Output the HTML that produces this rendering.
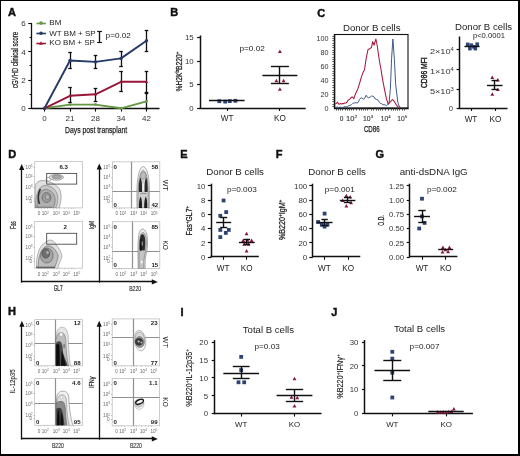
<!DOCTYPE html>
<html><head><meta charset="utf-8"><style>
html,body{margin:0;padding:0;background:#fff;}
body{width:520px;height:456px;overflow:hidden;}
svg{display:block;will-change:transform;font-family:"Liberation Sans", sans-serif;}
</style></head><body>
<svg width="520" height="456" viewBox="0 0 520 456">
<rect x="0" y="0" width="520" height="456" fill="#fff"/>
<text transform="translate(8.00,16.20)" font-size="11" font-weight="bold" fill="#111" stroke="#111" stroke-width="0.45">A</text>
<line x1="31.50" y1="22.92" x2="31.50" y2="108.90" stroke="#111" stroke-width="1.3"/>
<line x1="28.20" y1="108.50" x2="31.50" y2="108.50" stroke="#111" stroke-width="1.1"/>
<line x1="29.60" y1="94.50" x2="31.50" y2="94.50" stroke="#111" stroke-width="1.1"/>
<line x1="28.20" y1="80.50" x2="31.50" y2="80.50" stroke="#111" stroke-width="1.1"/>
<line x1="29.60" y1="65.50" x2="31.50" y2="65.50" stroke="#111" stroke-width="1.1"/>
<line x1="28.20" y1="51.50" x2="31.50" y2="51.50" stroke="#111" stroke-width="1.1"/>
<line x1="29.60" y1="37.50" x2="31.50" y2="37.50" stroke="#111" stroke-width="1.1"/>
<line x1="28.20" y1="23.50" x2="31.50" y2="23.50" stroke="#111" stroke-width="1.1"/>
<text transform="translate(25.60,111.20)" font-size="8" text-anchor="end" fill="#333">0</text>
<text transform="translate(25.60,82.94)" font-size="8" text-anchor="end" fill="#333">2</text>
<text transform="translate(25.60,54.68)" font-size="8" text-anchor="end" fill="#333">4</text>
<text transform="translate(25.60,26.42)" font-size="8" text-anchor="end" fill="#333">6</text>
<line x1="30.90" y1="108.50" x2="159.50" y2="108.50" stroke="#111" stroke-width="1.3"/>
<line x1="44.50" y1="108.30" x2="44.50" y2="111.60" stroke="#111" stroke-width="1.1"/>
<text transform="translate(44.50,121.00)" font-size="8" text-anchor="middle" fill="#333">0</text>
<line x1="70.50" y1="108.30" x2="70.50" y2="111.60" stroke="#111" stroke-width="1.1"/>
<text transform="translate(70.00,121.00)" font-size="8" text-anchor="middle" fill="#333">21</text>
<line x1="95.50" y1="108.30" x2="95.50" y2="111.60" stroke="#111" stroke-width="1.1"/>
<text transform="translate(95.50,121.00)" font-size="8" text-anchor="middle" fill="#333">28</text>
<line x1="121.50" y1="108.30" x2="121.50" y2="111.60" stroke="#111" stroke-width="1.1"/>
<text transform="translate(121.00,121.00)" font-size="8" text-anchor="middle" fill="#333">34</text>
<line x1="146.50" y1="108.30" x2="146.50" y2="111.60" stroke="#111" stroke-width="1.1"/>
<text transform="translate(146.50,121.00)" font-size="8" text-anchor="middle" fill="#333">42</text>
<text transform="translate(96.10,133.10)" font-size="9.6" text-anchor="middle" fill="#222" stroke="#222" stroke-width="0.25" textLength="62" lengthAdjust="spacingAndGlyphs">Days post transplant</text>
<text transform="translate(17.60,59.90) rotate(-90)" font-size="9.0" text-anchor="middle" fill="#222" stroke="#222" stroke-width="0.25" textLength="56" lengthAdjust="spacingAndGlyphs">cGVHD clinical score</text>
<line x1="70.50" y1="52.60" x2="70.50" y2="68.70" stroke="#111" stroke-width="1.3"/>
<line x1="68.20" y1="52.50" x2="71.80" y2="52.50" stroke="#111" stroke-width="1.3"/>
<line x1="68.20" y1="68.50" x2="71.80" y2="68.50" stroke="#111" stroke-width="1.3"/>
<line x1="95.50" y1="55.50" x2="95.50" y2="68.70" stroke="#111" stroke-width="1.3"/>
<line x1="93.70" y1="55.50" x2="97.30" y2="55.50" stroke="#111" stroke-width="1.3"/>
<line x1="93.70" y1="68.50" x2="97.30" y2="68.50" stroke="#111" stroke-width="1.3"/>
<line x1="121.50" y1="51.30" x2="121.50" y2="66.30" stroke="#111" stroke-width="1.3"/>
<line x1="119.20" y1="51.50" x2="122.80" y2="51.50" stroke="#111" stroke-width="1.3"/>
<line x1="119.20" y1="66.50" x2="122.80" y2="66.50" stroke="#111" stroke-width="1.3"/>
<line x1="146.50" y1="30.80" x2="146.50" y2="51.00" stroke="#111" stroke-width="1.3"/>
<line x1="144.70" y1="30.50" x2="148.30" y2="30.50" stroke="#111" stroke-width="1.3"/>
<line x1="144.70" y1="51.50" x2="148.30" y2="51.50" stroke="#111" stroke-width="1.3"/>
<line x1="70.50" y1="87.30" x2="70.50" y2="102.00" stroke="#111" stroke-width="1.3"/>
<line x1="68.20" y1="87.50" x2="71.80" y2="87.50" stroke="#111" stroke-width="1.3"/>
<line x1="68.20" y1="102.50" x2="71.80" y2="102.50" stroke="#111" stroke-width="1.3"/>
<line x1="95.50" y1="88.20" x2="95.50" y2="101.60" stroke="#111" stroke-width="1.3"/>
<line x1="93.70" y1="88.50" x2="97.30" y2="88.50" stroke="#111" stroke-width="1.3"/>
<line x1="93.70" y1="101.50" x2="97.30" y2="101.50" stroke="#111" stroke-width="1.3"/>
<line x1="121.50" y1="71.30" x2="121.50" y2="91.60" stroke="#111" stroke-width="1.3"/>
<line x1="119.20" y1="71.50" x2="122.80" y2="71.50" stroke="#111" stroke-width="1.3"/>
<line x1="119.20" y1="91.50" x2="122.80" y2="91.50" stroke="#111" stroke-width="1.3"/>
<line x1="146.50" y1="71.30" x2="146.50" y2="92.00" stroke="#111" stroke-width="1.3"/>
<line x1="144.70" y1="71.50" x2="148.30" y2="71.50" stroke="#111" stroke-width="1.3"/>
<line x1="144.70" y1="92.50" x2="148.30" y2="92.50" stroke="#111" stroke-width="1.3"/>
<line x1="146.50" y1="93.50" x2="146.50" y2="108.30" stroke="#111" stroke-width="1.3"/>
<line x1="144.70" y1="93.50" x2="148.30" y2="93.50" stroke="#111" stroke-width="1.3"/>
<line x1="144.70" y1="108.50" x2="148.30" y2="108.50" stroke="#111" stroke-width="1.3"/>
<polyline points="44.50,108.30 70.00,104.60 95.50,104.60 121.00,108.30 146.50,101.30" fill="none" stroke="#679846" stroke-width="1.9" stroke-linejoin="round"/>
<polyline points="44.50,108.30 70.00,95.80 95.50,94.30 121.00,81.80 146.50,81.80" fill="none" stroke="#981638" stroke-width="1.9" stroke-linejoin="round"/>
<polyline points="44.50,108.30 70.00,60.50 95.50,61.90 121.00,58.40 146.50,40.70" fill="none" stroke="#243a68" stroke-width="1.9" stroke-linejoin="round"/>
<circle cx="44.5" cy="108.3" r="1.4" fill="#679846"/>
<circle cx="70" cy="104.6" r="1.4" fill="#679846"/>
<circle cx="95.5" cy="104.6" r="1.4" fill="#679846"/>
<circle cx="121" cy="108.3" r="1.4" fill="#679846"/>
<circle cx="146.5" cy="101.3" r="1.4" fill="#679846"/>
<polygon points="44.50,106.57 42.90,109.45 46.10,109.45" fill="#981638"/>
<polygon points="70.00,94.07 68.40,96.95 71.60,96.95" fill="#981638"/>
<polygon points="95.50,92.57 93.90,95.45 97.10,95.45" fill="#981638"/>
<polygon points="121.00,80.07 119.40,82.95 122.60,82.95" fill="#981638"/>
<polygon points="146.50,80.07 144.90,82.95 148.10,82.95" fill="#981638"/>
<circle cx="44.5" cy="108.3" r="1.7" fill="#243a68"/>
<circle cx="70" cy="60.5" r="1.7" fill="#243a68"/>
<circle cx="95.5" cy="61.9" r="1.7" fill="#243a68"/>
<circle cx="121" cy="58.4" r="1.7" fill="#243a68"/>
<circle cx="146.5" cy="40.7" r="1.7" fill="#243a68"/>
<line x1="36.40" y1="23.50" x2="45.90" y2="23.50" stroke="#679846" stroke-width="1.6"/>
<circle cx="41" cy="23.1" r="1.8" fill="#679846"/>
<text transform="translate(49.30,25.40)" font-size="8.0" fill="#222">BM</text>
<line x1="36.40" y1="33.50" x2="45.90" y2="33.50" stroke="#243a68" stroke-width="1.6"/>
<circle cx="41" cy="33.3" r="1.8" fill="#243a68"/>
<text transform="translate(49.30,35.60)" font-size="8.0" fill="#222">WT BM + SP</text>
<line x1="36.40" y1="43.50" x2="45.90" y2="43.50" stroke="#981638" stroke-width="1.6"/>
<polygon points="41.00,41.25 39.10,44.67 42.90,44.67" fill="#981638"/>
<text transform="translate(49.30,45.30)" font-size="8.0" fill="#222">KO BM + SP</text>
<line x1="99.50" y1="31.80" x2="99.50" y2="42.30" stroke="#111" stroke-width="1.3"/>
<line x1="97.20" y1="31.50" x2="101.90" y2="31.50" stroke="#111" stroke-width="1.2"/>
<line x1="97.20" y1="42.50" x2="101.90" y2="42.50" stroke="#111" stroke-width="1.2"/>
<text transform="translate(105.60,38.10)" font-size="7.4" fill="#222" textLength="25.3" lengthAdjust="spacingAndGlyphs">p=0.02</text>
<text transform="translate(170.30,16.20)" font-size="11" font-weight="bold" fill="#111" stroke="#111" stroke-width="0.45">B</text>
<line x1="200.50" y1="35.45" x2="200.50" y2="108.60" stroke="#111" stroke-width="1.5"/>
<line x1="197.10" y1="108.50" x2="200.10" y2="108.50" stroke="#111" stroke-width="1.2"/>
<text transform="translate(193.60,110.81)" font-size="7.8" text-anchor="end" fill="#333">0</text>
<line x1="197.10" y1="84.50" x2="200.10" y2="84.50" stroke="#111" stroke-width="1.2"/>
<text transform="translate(193.60,87.36)" font-size="7.8" text-anchor="end" fill="#333">5</text>
<line x1="197.10" y1="61.50" x2="200.10" y2="61.50" stroke="#111" stroke-width="1.2"/>
<text transform="translate(193.60,63.91)" font-size="7.8" text-anchor="end" fill="#333">10</text>
<line x1="197.10" y1="37.50" x2="200.10" y2="37.50" stroke="#111" stroke-width="1.2"/>
<text transform="translate(193.60,40.46)" font-size="7.8" text-anchor="end" fill="#333">15</text>
<line x1="199.50" y1="108.50" x2="305.70" y2="108.50" stroke="#111" stroke-width="1.5"/>
<line x1="227.50" y1="108.00" x2="227.50" y2="111.00" stroke="#111" stroke-width="1.1"/>
<text transform="translate(227.10,121.40)" font-size="8.2" text-anchor="middle" fill="#222">WT</text>
<line x1="279.50" y1="108.00" x2="279.50" y2="111.00" stroke="#111" stroke-width="1.1"/>
<text transform="translate(279.90,121.40)" font-size="8.2" text-anchor="middle" fill="#222">KO</text>
<rect x="217.40" y="99.30" width="3.80" height="3.80" fill="#2e4472" stroke="none" stroke-width="1.0"/>
<rect x="223.30" y="99.70" width="3.80" height="3.80" fill="#2e4472" stroke="none" stroke-width="1.0"/>
<rect x="227.90" y="99.20" width="3.80" height="3.80" fill="#2e4472" stroke="none" stroke-width="1.0"/>
<rect x="233.50" y="98.90" width="3.80" height="3.80" fill="#2e4472" stroke="none" stroke-width="1.0"/>
<line x1="209.00" y1="100.50" x2="244.60" y2="100.50" stroke="#111" stroke-width="1.4"/>
<polygon points="279.90,49.49 277.95,53.00 281.85,53.00" fill="#861a3c"/>
<polygon points="276.40,78.79 274.45,82.30 278.35,82.30" fill="#861a3c"/>
<polygon points="283.60,78.79 281.65,82.30 285.55,82.30" fill="#861a3c"/>
<polygon points="279.90,87.19 277.95,90.70 281.85,90.70" fill="#861a3c"/>
<line x1="262.40" y1="75.50" x2="297.40" y2="75.50" stroke="#111" stroke-width="1.4"/>
<line x1="279.50" y1="66.90" x2="279.50" y2="83.10" stroke="#111" stroke-width="1.4"/>
<line x1="270.90" y1="66.50" x2="288.90" y2="66.50" stroke="#111" stroke-width="1.4"/>
<line x1="270.90" y1="83.50" x2="288.90" y2="83.50" stroke="#111" stroke-width="1.4"/>
<text transform="translate(239.50,51.00)" font-size="7.4" fill="#222" textLength="25.3" lengthAdjust="spacingAndGlyphs">p=0.02</text>
<text transform="translate(182.00,71.50) rotate(-90)" font-size="8.6" text-anchor="middle" fill="#222" stroke="#222" stroke-width="0.25" textLength="39.8" lengthAdjust="spacingAndGlyphs">%H2K<tspan font-size="6" dy="-3">b</tspan><tspan dy="3">B220</tspan><tspan font-size="6" dy="-3">+</tspan></text>
<text transform="translate(317.20,16.90)" font-size="11" font-weight="bold" fill="#111" stroke="#111" stroke-width="0.45">C</text>
<text transform="translate(371.70,30.50)" font-size="9.7" text-anchor="middle" fill="#222">Donor B cells</text>
<rect x="334.60" y="34.50" width="73.40" height="73.50" fill="none" stroke="#111" stroke-width="1.1"/>
<line x1="334.50" y1="34.00" x2="334.50" y2="108.60" stroke="#111" stroke-width="1.4"/>
<line x1="334.00" y1="108.50" x2="408.60" y2="108.50" stroke="#111" stroke-width="1.4"/>
<text transform="translate(328.60,40.70)" font-size="7.2" text-anchor="end" fill="#333">100</text>
<text transform="translate(328.60,54.50)" font-size="7.2" text-anchor="end" fill="#333">80</text>
<text transform="translate(328.60,68.80)" font-size="7.2" text-anchor="end" fill="#333">60</text>
<text transform="translate(328.60,83.00)" font-size="7.2" text-anchor="end" fill="#333">40</text>
<text transform="translate(328.60,97.30)" font-size="7.2" text-anchor="end" fill="#333">20</text>
<text transform="translate(328.60,110.90)" font-size="7.2" text-anchor="end" fill="#333">0</text>
<line x1="332.40" y1="36.50" x2="334.60" y2="36.50" stroke="#333" stroke-width="0.8"/>
<line x1="332.40" y1="38.50" x2="334.60" y2="38.50" stroke="#333" stroke-width="0.8"/>
<line x1="332.40" y1="40.50" x2="334.60" y2="40.50" stroke="#333" stroke-width="0.8"/>
<line x1="332.40" y1="43.50" x2="334.60" y2="43.50" stroke="#333" stroke-width="0.8"/>
<line x1="332.40" y1="45.50" x2="334.60" y2="45.50" stroke="#333" stroke-width="0.8"/>
<line x1="332.40" y1="47.50" x2="334.60" y2="47.50" stroke="#333" stroke-width="0.8"/>
<line x1="332.40" y1="50.50" x2="334.60" y2="50.50" stroke="#333" stroke-width="0.8"/>
<line x1="332.40" y1="52.50" x2="334.60" y2="52.50" stroke="#333" stroke-width="0.8"/>
<line x1="332.40" y1="54.50" x2="334.60" y2="54.50" stroke="#333" stroke-width="0.8"/>
<line x1="332.40" y1="57.50" x2="334.60" y2="57.50" stroke="#333" stroke-width="0.8"/>
<line x1="332.40" y1="59.50" x2="334.60" y2="59.50" stroke="#333" stroke-width="0.8"/>
<line x1="332.40" y1="61.50" x2="334.60" y2="61.50" stroke="#333" stroke-width="0.8"/>
<line x1="332.40" y1="64.50" x2="334.60" y2="64.50" stroke="#333" stroke-width="0.8"/>
<line x1="332.40" y1="66.50" x2="334.60" y2="66.50" stroke="#333" stroke-width="0.8"/>
<line x1="332.40" y1="68.50" x2="334.60" y2="68.50" stroke="#333" stroke-width="0.8"/>
<line x1="332.40" y1="71.50" x2="334.60" y2="71.50" stroke="#333" stroke-width="0.8"/>
<line x1="332.40" y1="73.50" x2="334.60" y2="73.50" stroke="#333" stroke-width="0.8"/>
<line x1="332.40" y1="75.50" x2="334.60" y2="75.50" stroke="#333" stroke-width="0.8"/>
<line x1="332.40" y1="78.50" x2="334.60" y2="78.50" stroke="#333" stroke-width="0.8"/>
<line x1="332.40" y1="80.50" x2="334.60" y2="80.50" stroke="#333" stroke-width="0.8"/>
<line x1="332.40" y1="82.50" x2="334.60" y2="82.50" stroke="#333" stroke-width="0.8"/>
<line x1="332.40" y1="85.50" x2="334.60" y2="85.50" stroke="#333" stroke-width="0.8"/>
<line x1="332.40" y1="87.50" x2="334.60" y2="87.50" stroke="#333" stroke-width="0.8"/>
<line x1="332.40" y1="90.50" x2="334.60" y2="90.50" stroke="#333" stroke-width="0.8"/>
<line x1="332.40" y1="92.50" x2="334.60" y2="92.50" stroke="#333" stroke-width="0.8"/>
<line x1="332.40" y1="94.50" x2="334.60" y2="94.50" stroke="#333" stroke-width="0.8"/>
<line x1="332.40" y1="97.50" x2="334.60" y2="97.50" stroke="#333" stroke-width="0.8"/>
<line x1="332.40" y1="99.50" x2="334.60" y2="99.50" stroke="#333" stroke-width="0.8"/>
<line x1="332.40" y1="101.50" x2="334.60" y2="101.50" stroke="#333" stroke-width="0.8"/>
<line x1="332.40" y1="104.50" x2="334.60" y2="104.50" stroke="#333" stroke-width="0.8"/>
<line x1="332.40" y1="106.50" x2="334.60" y2="106.50" stroke="#333" stroke-width="0.8"/>
<line x1="336.50" y1="108.20" x2="336.50" y2="110.60" stroke="#333" stroke-width="0.8"/>
<line x1="338.50" y1="108.20" x2="338.50" y2="110.60" stroke="#333" stroke-width="0.8"/>
<line x1="340.50" y1="108.20" x2="340.50" y2="110.60" stroke="#333" stroke-width="0.8"/>
<line x1="342.50" y1="108.20" x2="342.50" y2="110.60" stroke="#333" stroke-width="0.8"/>
<line x1="345.50" y1="108.20" x2="345.50" y2="110.60" stroke="#333" stroke-width="0.8"/>
<line x1="347.50" y1="108.20" x2="347.50" y2="110.60" stroke="#333" stroke-width="0.8"/>
<line x1="349.50" y1="108.20" x2="349.50" y2="110.60" stroke="#333" stroke-width="0.8"/>
<line x1="351.50" y1="108.20" x2="351.50" y2="110.60" stroke="#333" stroke-width="0.8"/>
<line x1="353.50" y1="108.20" x2="353.50" y2="110.60" stroke="#333" stroke-width="0.8"/>
<line x1="356.50" y1="108.20" x2="356.50" y2="110.60" stroke="#333" stroke-width="0.8"/>
<line x1="359.50" y1="108.20" x2="359.50" y2="110.60" stroke="#333" stroke-width="0.8"/>
<line x1="361.50" y1="108.20" x2="361.50" y2="110.60" stroke="#333" stroke-width="0.8"/>
<line x1="363.50" y1="108.20" x2="363.50" y2="110.60" stroke="#333" stroke-width="0.8"/>
<line x1="365.50" y1="108.20" x2="365.50" y2="110.60" stroke="#333" stroke-width="0.8"/>
<line x1="367.50" y1="108.20" x2="367.50" y2="110.60" stroke="#333" stroke-width="0.8"/>
<line x1="371.50" y1="108.20" x2="371.50" y2="110.60" stroke="#333" stroke-width="0.8"/>
<line x1="373.50" y1="108.20" x2="373.50" y2="110.60" stroke="#333" stroke-width="0.8"/>
<line x1="376.50" y1="108.20" x2="376.50" y2="110.60" stroke="#333" stroke-width="0.8"/>
<line x1="378.50" y1="108.20" x2="378.50" y2="110.60" stroke="#333" stroke-width="0.8"/>
<line x1="380.50" y1="108.20" x2="380.50" y2="110.60" stroke="#333" stroke-width="0.8"/>
<line x1="382.50" y1="108.20" x2="382.50" y2="110.60" stroke="#333" stroke-width="0.8"/>
<line x1="385.50" y1="108.20" x2="385.50" y2="110.60" stroke="#333" stroke-width="0.8"/>
<line x1="388.50" y1="108.20" x2="388.50" y2="110.60" stroke="#333" stroke-width="0.8"/>
<line x1="391.50" y1="108.20" x2="391.50" y2="110.60" stroke="#333" stroke-width="0.8"/>
<line x1="393.50" y1="108.20" x2="393.50" y2="110.60" stroke="#333" stroke-width="0.8"/>
<line x1="395.50" y1="108.20" x2="395.50" y2="110.60" stroke="#333" stroke-width="0.8"/>
<line x1="397.50" y1="108.20" x2="397.50" y2="110.60" stroke="#333" stroke-width="0.8"/>
<line x1="399.50" y1="108.20" x2="399.50" y2="110.60" stroke="#333" stroke-width="0.8"/>
<line x1="402.50" y1="108.20" x2="402.50" y2="110.60" stroke="#333" stroke-width="0.8"/>
<line x1="404.50" y1="108.20" x2="404.50" y2="110.60" stroke="#333" stroke-width="0.8"/>
<text transform="translate(341.60,120.70)" font-size="6.6" text-anchor="middle" fill="#333" stroke="#333" stroke-width="0.1">0</text>
<text transform="translate(351.60,120.70)" font-size="6.6" text-anchor="middle" fill="#333" stroke="#333" stroke-width="0.1" textLength="11.2" lengthAdjust="spacingAndGlyphs">10<tspan font-size="4.3" dy="-2.6">2</tspan></text>
<text transform="translate(368.10,120.70)" font-size="6.6" text-anchor="middle" fill="#333" stroke="#333" stroke-width="0.1" textLength="10.2" lengthAdjust="spacingAndGlyphs">10<tspan font-size="4.3" dy="-2.6">3</tspan></text>
<text transform="translate(385.70,120.70)" font-size="6.6" text-anchor="middle" fill="#333" stroke="#333" stroke-width="0.1" textLength="9.8" lengthAdjust="spacingAndGlyphs">10<tspan font-size="4.3" dy="-2.6">4</tspan></text>
<text transform="translate(402.20,120.70)" font-size="6.6" text-anchor="middle" fill="#333" stroke="#333" stroke-width="0.1" textLength="9.9" lengthAdjust="spacingAndGlyphs">10<tspan font-size="4.3" dy="-2.6">5</tspan></text>
<text transform="translate(371.80,131.70)" font-size="8.2" text-anchor="middle" fill="#1a1a1a" stroke="#1a1a1a" stroke-width="0.25" textLength="15.8" lengthAdjust="spacingAndGlyphs">CD86</text>
<polyline points="335.20,107.40 336.42,107.23 337.63,107.06 338.85,107.54 340.07,106.99 341.28,107.43 342.50,107.40 343.82,107.07 345.15,106.56 346.48,106.81 347.80,106.60 348.97,105.49 350.13,105.32 351.30,104.80 352.47,103.65 353.63,103.05 354.80,103.00 355.97,102.63 357.13,102.94 358.30,102.20 359.60,99.36 360.90,97.80 362.25,98.14 363.60,99.50 364.90,97.60 366.20,95.20 367.50,97.42 368.80,97.80 370.15,97.05 371.50,96.00 372.80,96.24 374.10,96.90 375.40,99.10 376.70,99.50 378.05,100.12 379.40,102.20 380.57,103.57 381.73,103.66 382.90,104.80 384.07,104.68 385.23,104.96 386.40,105.70 387.70,104.57 389.00,103.90 390.40,88.10 391.60,58.30 392.90,39.00 394.30,58.30 395.70,84.60 397.80,102.20 399.50,107.10 400.85,107.45 402.20,107.80" fill="none" stroke="#41598a" stroke-width="1.0" stroke-linejoin="round"/>
<polyline points="335.20,103.90 336.25,103.55 337.30,102.20 339.00,104.30 340.17,103.60 341.33,103.96 342.50,103.60 343.67,103.62 344.83,103.00 346.00,103.00 347.17,101.92 348.33,99.84 349.50,99.50 351.30,97.30 352.60,97.03 353.90,98.70 355.25,94.40 356.60,91.60 357.90,88.68 359.20,84.60 360.50,80.02 361.80,75.90 363.15,72.21 364.50,69.70 366.20,58.30 368.00,49.50 369.70,48.70 371.50,47.40 372.70,41.60 374.10,45.20 375.90,39.00 377.30,46.00 378.50,54.80 379.70,62.70 380.80,68.00 381.85,74.82 382.90,81.10 384.60,89.90 386.40,98.70 388.10,103.90 389.45,102.52 390.80,101.30 392.50,99.50 393.85,100.89 395.20,103.00 396.50,105.21 397.80,106.60 399.10,107.42 400.40,107.80" fill="none" stroke="#a8193f" stroke-width="1.05" stroke-linejoin="round"/>
<text transform="translate(483.60,30.40)" font-size="9.6" text-anchor="middle" fill="#222">Donor B cells</text>
<text transform="translate(472.90,38.30)" font-size="7.0" fill="#222" textLength="32.0" lengthAdjust="spacingAndGlyphs">p&lt;0.0001</text>
<line x1="459.50" y1="36.50" x2="459.50" y2="108.60" stroke="#111" stroke-width="1.5"/>
<line x1="456.60" y1="49.50" x2="459.70" y2="49.50" stroke="#111" stroke-width="1.2"/>
<line x1="456.60" y1="69.50" x2="459.70" y2="69.50" stroke="#111" stroke-width="1.2"/>
<line x1="456.60" y1="89.50" x2="459.70" y2="89.50" stroke="#111" stroke-width="1.2"/>
<line x1="456.60" y1="108.50" x2="459.70" y2="108.50" stroke="#111" stroke-width="1.2"/>
<line x1="459.10" y1="108.50" x2="507.50" y2="108.50" stroke="#111" stroke-width="1.5"/>
<line x1="471.50" y1="108.00" x2="471.50" y2="111.00" stroke="#111" stroke-width="1.1"/>
<text transform="translate(471.00,122.00)" font-size="8.2" text-anchor="middle" fill="#222">WT</text>
<line x1="495.50" y1="108.00" x2="495.50" y2="111.00" stroke="#111" stroke-width="1.1"/>
<text transform="translate(495.40,122.00)" font-size="8.2" text-anchor="middle" fill="#222">KO</text>
<text transform="translate(441.90,53.50)" font-size="7.6" text-anchor="middle" fill="#333" textLength="24" lengthAdjust="spacingAndGlyphs">2×10<tspan font-size="4.9" dy="-2.6">4</tspan></text>
<text transform="translate(441.90,73.70)" font-size="7.6" text-anchor="middle" fill="#333" textLength="24" lengthAdjust="spacingAndGlyphs">1×10<tspan font-size="4.9" dy="-2.6">4</tspan></text>
<text transform="translate(441.90,93.50)" font-size="7.6" text-anchor="middle" fill="#333" textLength="24" lengthAdjust="spacingAndGlyphs">5×10<tspan font-size="4.9" dy="-2.6">3</tspan></text>
<text transform="translate(452.90,110.70)" font-size="7.6" text-anchor="end" fill="#333">0</text>
<text transform="translate(426.70,72.70) rotate(-90)" font-size="9.0" text-anchor="middle" fill="#111" stroke="#111" stroke-width="0.35" textLength="30.6" lengthAdjust="spacingAndGlyphs">CD86 MFI</text>
<rect x="465.90" y="42.60" width="3.60" height="3.60" fill="#2f4574" stroke="none" stroke-width="1.0"/>
<rect x="468.10" y="46.80" width="3.60" height="3.60" fill="#2f4574" stroke="none" stroke-width="1.0"/>
<rect x="472.10" y="45.00" width="3.60" height="3.60" fill="#2f4574" stroke="none" stroke-width="1.0"/>
<rect x="475.40" y="42.40" width="3.60" height="3.60" fill="#2f4574" stroke="none" stroke-width="1.0"/>
<rect x="473.50" y="46.80" width="3.60" height="3.60" fill="#2f4574" stroke="none" stroke-width="1.0"/>
<rect x="469.50" y="43.40" width="3.60" height="3.60" fill="#2f4574" stroke="none" stroke-width="1.0"/>
<line x1="464.40" y1="46.50" x2="479.60" y2="46.50" stroke="#111" stroke-width="1.4"/>
<polygon points="492.30,75.49 490.35,79.00 494.25,79.00" fill="#861a3c"/>
<polygon points="497.90,77.89 495.95,81.40 499.85,81.40" fill="#861a3c"/>
<polygon points="497.90,87.59 495.95,91.10 499.85,91.10" fill="#861a3c"/>
<polygon points="492.30,92.29 490.35,95.80 494.25,95.80" fill="#861a3c"/>
<line x1="487.05" y1="85.50" x2="502.55" y2="85.50" stroke="#111" stroke-width="1.4"/>
<line x1="494.50" y1="80.70" x2="494.50" y2="89.70" stroke="#111" stroke-width="1.4"/>
<line x1="491.50" y1="80.50" x2="498.10" y2="80.50" stroke="#111" stroke-width="1.4"/>
<line x1="491.50" y1="89.50" x2="498.10" y2="89.50" stroke="#111" stroke-width="1.4"/>
<text transform="translate(180.20,158.30)" font-size="11" font-weight="bold" fill="#111" stroke="#111" stroke-width="0.45">E</text>
<text transform="translate(275.70,158.30)" font-size="11" font-weight="bold" fill="#111" stroke="#111" stroke-width="0.45">F</text>
<text transform="translate(375.60,158.30)" font-size="11" font-weight="bold" fill="#111" stroke="#111" stroke-width="0.45">G</text>
<text transform="translate(235.10,174.80)" font-size="9.7" text-anchor="middle" fill="#222">Donor B cells</text>
<text transform="translate(337.10,174.80)" font-size="9.7" text-anchor="middle" fill="#222">Donor B cells</text>
<text transform="translate(433.70,174.80)" font-size="9.8" text-anchor="middle" fill="#222">anti-dsDNA IgG</text>
<line x1="211.50" y1="183.70" x2="211.50" y2="257.40" stroke="#111" stroke-width="1.5"/>
<line x1="207.80" y1="257.50" x2="211.10" y2="257.50" stroke="#111" stroke-width="1.2"/>
<text transform="translate(205.40,259.81)" font-size="7.8" text-anchor="end" fill="#333">0</text>
<line x1="207.80" y1="242.50" x2="211.10" y2="242.50" stroke="#111" stroke-width="1.2"/>
<text transform="translate(205.40,245.59)" font-size="7.8" text-anchor="end" fill="#333">2</text>
<line x1="207.80" y1="228.50" x2="211.10" y2="228.50" stroke="#111" stroke-width="1.2"/>
<text transform="translate(205.40,231.37)" font-size="7.8" text-anchor="end" fill="#333">4</text>
<line x1="207.80" y1="214.50" x2="211.10" y2="214.50" stroke="#111" stroke-width="1.2"/>
<text transform="translate(205.40,217.15)" font-size="7.8" text-anchor="end" fill="#333">6</text>
<line x1="207.80" y1="200.50" x2="211.10" y2="200.50" stroke="#111" stroke-width="1.2"/>
<text transform="translate(205.40,202.93)" font-size="7.8" text-anchor="end" fill="#333">8</text>
<line x1="207.80" y1="185.50" x2="211.10" y2="185.50" stroke="#111" stroke-width="1.2"/>
<text transform="translate(205.40,188.71)" font-size="7.8" text-anchor="end" fill="#333">10</text>
<line x1="210.50" y1="256.50" x2="258.80" y2="256.50" stroke="#111" stroke-width="1.5"/>
<line x1="223.50" y1="256.80" x2="223.50" y2="259.80" stroke="#111" stroke-width="1.1"/>
<text transform="translate(223.20,270.60)" font-size="8.2" text-anchor="middle" fill="#222">WT</text>
<line x1="246.50" y1="256.80" x2="246.50" y2="259.80" stroke="#111" stroke-width="1.1"/>
<text transform="translate(246.70,270.60)" font-size="8.2" text-anchor="middle" fill="#222">KO</text>
<rect x="221.70" y="198.60" width="3.80" height="3.80" fill="#2e4472" stroke="none" stroke-width="1.0"/>
<rect x="224.30" y="210.20" width="3.80" height="3.80" fill="#2e4472" stroke="none" stroke-width="1.0"/>
<rect x="218.40" y="213.90" width="3.80" height="3.80" fill="#2e4472" stroke="none" stroke-width="1.0"/>
<rect x="218.40" y="228.00" width="3.80" height="3.80" fill="#2e4472" stroke="none" stroke-width="1.0"/>
<rect x="226.90" y="228.00" width="3.80" height="3.80" fill="#2e4472" stroke="none" stroke-width="1.0"/>
<rect x="223.90" y="231.00" width="3.80" height="3.80" fill="#2e4472" stroke="none" stroke-width="1.0"/>
<rect x="218.40" y="235.20" width="3.80" height="3.80" fill="#2e4472" stroke="none" stroke-width="1.0"/>
<line x1="216.20" y1="222.50" x2="231.20" y2="222.50" stroke="#111" stroke-width="1.4"/>
<line x1="223.50" y1="217.60" x2="223.50" y2="227.60" stroke="#111" stroke-width="1.4"/>
<line x1="220.20" y1="217.50" x2="227.20" y2="217.50" stroke="#111" stroke-width="1.4"/>
<line x1="220.20" y1="227.50" x2="227.20" y2="227.50" stroke="#111" stroke-width="1.4"/>
<polygon points="246.60,231.69 244.65,235.20 248.55,235.20" fill="#861a3c"/>
<polygon points="243.20,238.49 241.25,242.00 245.15,242.00" fill="#861a3c"/>
<polygon points="247.50,238.19 245.55,241.70 249.45,241.70" fill="#861a3c"/>
<polygon points="251.60,238.49 249.65,242.00 253.55,242.00" fill="#861a3c"/>
<polygon points="244.20,242.29 242.25,245.80 246.15,245.80" fill="#861a3c"/>
<polygon points="248.50,242.29 246.55,245.80 250.45,245.80" fill="#861a3c"/>
<polygon points="246.60,249.09 244.65,252.60 248.55,252.60" fill="#861a3c"/>
<line x1="238.90" y1="242.50" x2="254.70" y2="242.50" stroke="#111" stroke-width="1.4"/>
<line x1="246.50" y1="239.80" x2="246.50" y2="244.40" stroke="#111" stroke-width="1.4"/>
<line x1="243.55" y1="239.50" x2="250.05" y2="239.50" stroke="#111" stroke-width="1.4"/>
<line x1="243.55" y1="244.50" x2="250.05" y2="244.50" stroke="#111" stroke-width="1.4"/>
<text transform="translate(226.90,191.50)" font-size="7.4" fill="#222" textLength="29.9" lengthAdjust="spacingAndGlyphs">p=0.003</text>
<text transform="translate(192.00,220.70) rotate(-90)" font-size="9.0" text-anchor="middle" fill="#222" stroke="#222" stroke-width="0.25" textLength="29.6" lengthAdjust="spacingAndGlyphs">Fas<tspan font-size="6" dy="-3">+</tspan><tspan dy="3">GL7</tspan><tspan font-size="6" dy="-3">+</tspan></text>
<line x1="312.50" y1="183.70" x2="312.50" y2="257.40" stroke="#111" stroke-width="1.5"/>
<line x1="309.30" y1="257.50" x2="312.70" y2="257.50" stroke="#111" stroke-width="1.2"/>
<text transform="translate(307.20,259.84)" font-size="7.9" text-anchor="end" fill="#333">0</text>
<line x1="309.30" y1="242.50" x2="312.70" y2="242.50" stroke="#111" stroke-width="1.2"/>
<text transform="translate(307.20,245.62)" font-size="7.9" text-anchor="end" fill="#333">20</text>
<line x1="309.30" y1="228.50" x2="312.70" y2="228.50" stroke="#111" stroke-width="1.2"/>
<text transform="translate(307.20,231.40)" font-size="7.9" text-anchor="end" fill="#333">40</text>
<line x1="309.30" y1="214.50" x2="312.70" y2="214.50" stroke="#111" stroke-width="1.2"/>
<text transform="translate(307.20,217.18)" font-size="7.9" text-anchor="end" fill="#333">60</text>
<line x1="309.30" y1="200.50" x2="312.70" y2="200.50" stroke="#111" stroke-width="1.2"/>
<text transform="translate(307.20,202.96)" font-size="7.9" text-anchor="end" fill="#333">80</text>
<line x1="309.30" y1="185.50" x2="312.70" y2="185.50" stroke="#111" stroke-width="1.2"/>
<text transform="translate(307.20,188.74)" font-size="7.9" text-anchor="end" fill="#333">100</text>
<line x1="312.10" y1="256.50" x2="360.30" y2="256.50" stroke="#111" stroke-width="1.5"/>
<line x1="324.50" y1="256.80" x2="324.50" y2="259.80" stroke="#111" stroke-width="1.1"/>
<text transform="translate(324.40,270.60)" font-size="8.2" text-anchor="middle" fill="#222">WT</text>
<line x1="348.50" y1="256.80" x2="348.50" y2="259.80" stroke="#111" stroke-width="1.1"/>
<text transform="translate(348.10,270.60)" font-size="8.2" text-anchor="middle" fill="#222">KO</text>
<rect x="322.70" y="211.70" width="3.80" height="3.80" fill="#2e4472" stroke="none" stroke-width="1.0"/>
<rect x="316.20" y="220.10" width="3.80" height="3.80" fill="#2e4472" stroke="none" stroke-width="1.0"/>
<rect x="319.90" y="222.90" width="3.80" height="3.80" fill="#2e4472" stroke="none" stroke-width="1.0"/>
<rect x="322.70" y="224.70" width="3.80" height="3.80" fill="#2e4472" stroke="none" stroke-width="1.0"/>
<rect x="325.50" y="222.90" width="3.80" height="3.80" fill="#2e4472" stroke="none" stroke-width="1.0"/>
<line x1="316.60" y1="222.50" x2="332.60" y2="222.50" stroke="#111" stroke-width="1.4"/>
<line x1="324.50" y1="219.70" x2="324.50" y2="225.30" stroke="#111" stroke-width="1.4"/>
<line x1="321.40" y1="219.50" x2="327.80" y2="219.50" stroke="#111" stroke-width="1.4"/>
<line x1="321.40" y1="225.50" x2="327.80" y2="225.50" stroke="#111" stroke-width="1.4"/>
<polygon points="346.40,193.79 344.45,197.30 348.35,197.30" fill="#861a3c"/>
<polygon points="350.10,195.09 348.15,198.60 352.05,198.60" fill="#861a3c"/>
<polygon points="342.70,198.39 340.75,201.90 344.65,201.90" fill="#861a3c"/>
<polygon points="351.10,200.69 349.15,204.20 353.05,204.20" fill="#861a3c"/>
<polygon points="346.40,203.99 344.45,207.50 348.35,207.50" fill="#861a3c"/>
<line x1="339.80" y1="200.50" x2="355.40" y2="200.50" stroke="#111" stroke-width="1.4"/>
<line x1="347.50" y1="197.70" x2="347.50" y2="202.80" stroke="#111" stroke-width="1.4"/>
<line x1="343.85" y1="197.50" x2="351.35" y2="197.50" stroke="#111" stroke-width="1.4"/>
<line x1="343.85" y1="202.50" x2="351.35" y2="202.50" stroke="#111" stroke-width="1.4"/>
<text transform="translate(324.80,191.50)" font-size="7.4" fill="#222" textLength="29.9" lengthAdjust="spacingAndGlyphs">p=0.001</text>
<text transform="translate(284.60,219.80) rotate(-90)" font-size="9.0" text-anchor="middle" fill="#222" stroke="#222" stroke-width="0.25" textLength="40.4" lengthAdjust="spacingAndGlyphs">%B220<tspan font-size="6" dy="-3">+</tspan><tspan dy="3">IgM</tspan><tspan font-size="6" dy="-3">+</tspan></text>
<line x1="409.50" y1="183.70" x2="409.50" y2="257.40" stroke="#111" stroke-width="1.5"/>
<line x1="406.70" y1="257.50" x2="409.60" y2="257.50" stroke="#111" stroke-width="1.2"/>
<text transform="translate(404.00,259.77)" font-size="7.7" text-anchor="end" fill="#333">0.00</text>
<line x1="406.70" y1="242.50" x2="409.60" y2="242.50" stroke="#111" stroke-width="1.2"/>
<text transform="translate(404.00,245.55)" font-size="7.7" text-anchor="end" fill="#333">0.25</text>
<line x1="406.70" y1="228.50" x2="409.60" y2="228.50" stroke="#111" stroke-width="1.2"/>
<text transform="translate(404.00,231.33)" font-size="7.7" text-anchor="end" fill="#333">0.50</text>
<line x1="406.70" y1="214.50" x2="409.60" y2="214.50" stroke="#111" stroke-width="1.2"/>
<text transform="translate(404.00,217.11)" font-size="7.7" text-anchor="end" fill="#333">0.75</text>
<line x1="406.70" y1="200.50" x2="409.60" y2="200.50" stroke="#111" stroke-width="1.2"/>
<text transform="translate(404.00,202.89)" font-size="7.7" text-anchor="end" fill="#333">1.00</text>
<line x1="406.70" y1="185.50" x2="409.60" y2="185.50" stroke="#111" stroke-width="1.2"/>
<text transform="translate(404.00,188.67)" font-size="7.7" text-anchor="end" fill="#333">1.25</text>
<line x1="409.00" y1="256.50" x2="457.40" y2="256.50" stroke="#111" stroke-width="1.5"/>
<line x1="422.50" y1="256.80" x2="422.50" y2="259.80" stroke="#111" stroke-width="1.1"/>
<text transform="translate(422.00,270.60)" font-size="8.2" text-anchor="middle" fill="#222">WT</text>
<line x1="445.50" y1="256.80" x2="445.50" y2="259.80" stroke="#111" stroke-width="1.1"/>
<text transform="translate(445.80,270.60)" font-size="8.2" text-anchor="middle" fill="#222">KO</text>
<rect x="420.10" y="196.80" width="3.80" height="3.80" fill="#2e4472" stroke="none" stroke-width="1.0"/>
<rect x="420.10" y="214.50" width="3.80" height="3.80" fill="#2e4472" stroke="none" stroke-width="1.0"/>
<rect x="422.70" y="221.00" width="3.80" height="3.80" fill="#2e4472" stroke="none" stroke-width="1.0"/>
<rect x="417.30" y="226.60" width="3.80" height="3.80" fill="#2e4472" stroke="none" stroke-width="1.0"/>
<line x1="414.05" y1="216.50" x2="429.95" y2="216.50" stroke="#111" stroke-width="1.4"/>
<line x1="422.50" y1="210.20" x2="422.50" y2="222.90" stroke="#111" stroke-width="1.4"/>
<line x1="418.30" y1="210.50" x2="425.70" y2="210.50" stroke="#111" stroke-width="1.4"/>
<line x1="418.30" y1="222.50" x2="425.70" y2="222.50" stroke="#111" stroke-width="1.4"/>
<polygon points="442.90,245.49 440.95,249.00 444.85,249.00" fill="#861a3c"/>
<polygon points="449.40,245.49 447.45,249.00 451.35,249.00" fill="#861a3c"/>
<polygon points="442.50,250.09 440.55,253.60 444.45,253.60" fill="#861a3c"/>
<polygon points="448.10,249.69 446.15,253.20 450.05,253.20" fill="#861a3c"/>
<polygon points="445.50,247.69 443.55,251.20 447.45,251.20" fill="#861a3c"/>
<line x1="438.20" y1="249.50" x2="453.20" y2="249.50" stroke="#111" stroke-width="1.4"/>
<text transform="translate(426.90,191.50)" font-size="7.4" fill="#222" textLength="29.9" lengthAdjust="spacingAndGlyphs">p=0.002</text>
<text transform="translate(383.50,220.50) rotate(-90)" font-size="8.6" text-anchor="middle" fill="#222" stroke="#222" stroke-width="0.25" textLength="10.4" lengthAdjust="spacingAndGlyphs">O.D.</text>
<text transform="translate(180.60,316.20)" font-size="11" font-weight="bold" fill="#111" stroke="#111" stroke-width="0.45">I</text>
<text transform="translate(331.20,315.80)" font-size="11" font-weight="bold" fill="#111" stroke="#111" stroke-width="0.45">J</text>
<text transform="translate(268.40,332.60)" font-size="9.6" text-anchor="middle" fill="#222">Total B cells</text>
<text transform="translate(419.50,331.80)" font-size="9.6" text-anchor="middle" fill="#222">Total B cells</text>
<line x1="214.50" y1="340.10" x2="214.50" y2="414.20" stroke="#111" stroke-width="1.5"/>
<line x1="211.70" y1="413.50" x2="214.60" y2="413.50" stroke="#111" stroke-width="1.2"/>
<text transform="translate(208.00,416.41)" font-size="7.8" text-anchor="end" fill="#333">0</text>
<line x1="211.70" y1="395.50" x2="214.60" y2="395.50" stroke="#111" stroke-width="1.2"/>
<text transform="translate(208.00,398.58)" font-size="7.8" text-anchor="end" fill="#333">5</text>
<line x1="211.70" y1="377.50" x2="214.60" y2="377.50" stroke="#111" stroke-width="1.2"/>
<text transform="translate(208.00,380.76)" font-size="7.8" text-anchor="end" fill="#333">10</text>
<line x1="211.70" y1="360.50" x2="214.60" y2="360.50" stroke="#111" stroke-width="1.2"/>
<text transform="translate(208.00,362.93)" font-size="7.8" text-anchor="end" fill="#333">15</text>
<line x1="211.70" y1="342.50" x2="214.60" y2="342.50" stroke="#111" stroke-width="1.2"/>
<text transform="translate(208.00,345.11)" font-size="7.8" text-anchor="end" fill="#333">20</text>
<line x1="214.00" y1="413.50" x2="321.50" y2="413.50" stroke="#111" stroke-width="1.5"/>
<line x1="241.50" y1="413.60" x2="241.50" y2="416.60" stroke="#111" stroke-width="1.1"/>
<text transform="translate(241.10,427.20)" font-size="7.9" text-anchor="middle" fill="#222">WT</text>
<line x1="294.50" y1="413.60" x2="294.50" y2="416.60" stroke="#111" stroke-width="1.1"/>
<text transform="translate(294.40,427.20)" font-size="7.9" text-anchor="middle" fill="#222">KO</text>
<rect x="239.30" y="355.00" width="3.80" height="3.80" fill="#2e4472" stroke="none" stroke-width="1.0"/>
<rect x="239.30" y="368.20" width="3.80" height="3.80" fill="#2e4472" stroke="none" stroke-width="1.0"/>
<rect x="236.60" y="380.40" width="3.80" height="3.80" fill="#2e4472" stroke="none" stroke-width="1.0"/>
<rect x="242.30" y="380.40" width="3.80" height="3.80" fill="#2e4472" stroke="none" stroke-width="1.0"/>
<line x1="223.35" y1="373.50" x2="259.05" y2="373.50" stroke="#111" stroke-width="1.4"/>
<line x1="241.50" y1="366.80" x2="241.50" y2="378.80" stroke="#111" stroke-width="1.4"/>
<line x1="232.80" y1="366.50" x2="249.60" y2="366.50" stroke="#111" stroke-width="1.4"/>
<line x1="232.80" y1="378.50" x2="249.60" y2="378.50" stroke="#111" stroke-width="1.4"/>
<polygon points="294.50,376.69 292.55,380.20 296.45,380.20" fill="#861a3c"/>
<polygon points="291.50,395.19 289.55,398.70 293.45,398.70" fill="#861a3c"/>
<polygon points="297.30,395.69 295.35,399.20 299.25,399.20" fill="#861a3c"/>
<polygon points="294.50,403.99 292.55,407.50 296.45,407.50" fill="#861a3c"/>
<line x1="276.60" y1="395.50" x2="312.40" y2="395.50" stroke="#111" stroke-width="1.4"/>
<line x1="294.50" y1="389.20" x2="294.50" y2="401.20" stroke="#111" stroke-width="1.4"/>
<line x1="285.85" y1="389.50" x2="303.15" y2="389.50" stroke="#111" stroke-width="1.4"/>
<line x1="285.85" y1="401.50" x2="303.15" y2="401.50" stroke="#111" stroke-width="1.4"/>
<text transform="translate(254.50,348.60)" font-size="7.4" fill="#222" textLength="25.3" lengthAdjust="spacingAndGlyphs">p=0.03</text>
<text transform="translate(192.40,377.80) rotate(-90)" font-size="9.0" text-anchor="middle" fill="#222" stroke="#222" stroke-width="0.12" textLength="57.7" lengthAdjust="spacingAndGlyphs">%B220<tspan font-size="6" dy="-3">+</tspan><tspan dy="3">IL-12p35</tspan><tspan font-size="6" dy="-3">+</tspan></text>
<line x1="364.50" y1="340.00" x2="364.50" y2="414.00" stroke="#111" stroke-width="1.5"/>
<line x1="361.90" y1="413.50" x2="364.80" y2="413.50" stroke="#111" stroke-width="1.2"/>
<text transform="translate(358.40,416.21)" font-size="7.8" text-anchor="end" fill="#333">0</text>
<line x1="361.90" y1="389.50" x2="364.80" y2="389.50" stroke="#111" stroke-width="1.2"/>
<text transform="translate(358.40,392.47)" font-size="7.8" text-anchor="end" fill="#333">10</text>
<line x1="361.90" y1="365.50" x2="364.80" y2="365.50" stroke="#111" stroke-width="1.2"/>
<text transform="translate(358.40,368.74)" font-size="7.8" text-anchor="end" fill="#333">20</text>
<line x1="361.90" y1="342.50" x2="364.80" y2="342.50" stroke="#111" stroke-width="1.2"/>
<text transform="translate(358.40,345.01)" font-size="7.8" text-anchor="end" fill="#333">30</text>
<line x1="364.20" y1="413.50" x2="472.90" y2="413.50" stroke="#111" stroke-width="1.5"/>
<line x1="392.50" y1="413.40" x2="392.50" y2="416.40" stroke="#111" stroke-width="1.1"/>
<text transform="translate(392.30,427.20)" font-size="7.9" text-anchor="middle" fill="#222">WT</text>
<line x1="446.50" y1="413.40" x2="446.50" y2="416.40" stroke="#111" stroke-width="1.1"/>
<text transform="translate(446.20,427.20)" font-size="7.9" text-anchor="middle" fill="#222">KO</text>
<rect x="390.40" y="349.90" width="3.80" height="3.80" fill="#2e4472" stroke="none" stroke-width="1.0"/>
<rect x="390.40" y="356.70" width="3.80" height="3.80" fill="#2e4472" stroke="none" stroke-width="1.0"/>
<rect x="390.40" y="370.80" width="3.80" height="3.80" fill="#2e4472" stroke="none" stroke-width="1.0"/>
<rect x="390.40" y="395.60" width="3.80" height="3.80" fill="#2e4472" stroke="none" stroke-width="1.0"/>
<line x1="374.50" y1="370.50" x2="410.10" y2="370.50" stroke="#111" stroke-width="1.4"/>
<line x1="392.50" y1="360.20" x2="392.50" y2="380.20" stroke="#111" stroke-width="1.4"/>
<line x1="383.30" y1="360.50" x2="401.30" y2="360.50" stroke="#111" stroke-width="1.4"/>
<line x1="383.30" y1="380.50" x2="401.30" y2="380.50" stroke="#111" stroke-width="1.4"/>
<polygon points="437.60,409.89 435.65,413.40 439.55,413.40" fill="#861a3c"/>
<polygon points="440.40,410.19 438.45,413.70 442.35,413.70" fill="#861a3c"/>
<polygon points="443.20,410.09 441.25,413.60 445.15,413.60" fill="#861a3c"/>
<polygon points="446.00,410.29 444.05,413.80 447.95,413.80" fill="#861a3c"/>
<polygon points="448.80,409.79 446.85,413.30 450.75,413.30" fill="#861a3c"/>
<polygon points="451.40,409.49 449.45,413.00 453.35,413.00" fill="#861a3c"/>
<polygon points="453.80,406.89 451.85,410.40 455.75,410.40" fill="#861a3c"/>
<line x1="428.30" y1="411.50" x2="463.70" y2="411.50" stroke="#111" stroke-width="1.4"/>
<text transform="translate(409.60,348.70)" font-size="7.4" fill="#222" textLength="29.9" lengthAdjust="spacingAndGlyphs">p=0.007</text>
<text transform="translate(342.90,376.50) rotate(-90)" font-size="9.0" text-anchor="middle" fill="#222" stroke="#222" stroke-width="0.12" textLength="44.7" lengthAdjust="spacingAndGlyphs">%B220<tspan font-size="6" dy="-3">+</tspan><tspan dy="3">IFNγ</tspan><tspan font-size="6" dy="-3">+</tspan></text>
<text transform="translate(8.20,158.20)" font-size="11" font-weight="bold" fill="#111" stroke="#111" stroke-width="0.45">D</text>
<line x1="21.50" y1="282.60" x2="21.50" y2="168.00" stroke="#111" stroke-width="1.3"/>
<polygon points="21.7,164.0 19.099999999999998,170.0 24.3,170.0" fill="#111"/>
<line x1="99.50" y1="282.60" x2="99.50" y2="167.50" stroke="#111" stroke-width="1.3"/>
<polygon points="99.3,163.5 96.7,169.5 101.89999999999999,169.5" fill="#111"/>
<line x1="21.05" y1="281.50" x2="99.30" y2="281.50" stroke="#111" stroke-width="1.4"/>
<line x1="99.30" y1="281.50" x2="153.80" y2="281.50" stroke="#111" stroke-width="1.3"/>
<polygon points="157.8,281.9 151.8,279.29999999999995 151.8,284.5" fill="#111"/>
<text transform="translate(16.40,225.00) rotate(-90)" font-size="8.2" text-anchor="middle" fill="#222" stroke="#222" stroke-width="0.2" textLength="7.5" lengthAdjust="spacingAndGlyphs">Fas</text>
<text transform="translate(94.40,225.00) rotate(-90)" font-size="8.0" text-anchor="middle" fill="#222" stroke="#222" stroke-width="0.2" textLength="8.2" lengthAdjust="spacingAndGlyphs">IgM</text>
<text transform="translate(58.10,291.00)" font-size="8.2" text-anchor="middle" fill="#222" stroke="#222" stroke-width="0.2" textLength="8.9" lengthAdjust="spacingAndGlyphs">GL7</text>
<text transform="translate(135.20,290.60)" font-size="7.5" text-anchor="middle" fill="#333" stroke="#333" stroke-width="0.15" textLength="12" lengthAdjust="spacingAndGlyphs">B220</text>
<text transform="translate(163.20,185.30) rotate(90)" font-size="6.8" text-anchor="middle" fill="#222" textLength="11.2" lengthAdjust="spacingAndGlyphs">WT</text>
<text transform="translate(163.20,245.10) rotate(90)" font-size="6.8" text-anchor="middle" fill="#222" textLength="9.2" lengthAdjust="spacingAndGlyphs">KO</text>
<rect x="34.70" y="161.60" width="47.80" height="46.30" fill="#fff" stroke="#c0c0c0" stroke-width="0.8"/>
<line x1="33.50" y1="167.50" x2="34.70" y2="167.50" stroke="#999" stroke-width="0.6"/>
<line x1="33.50" y1="176.50" x2="34.70" y2="176.50" stroke="#999" stroke-width="0.6"/>
<line x1="33.50" y1="187.50" x2="34.70" y2="187.50" stroke="#999" stroke-width="0.6"/>
<line x1="33.50" y1="198.50" x2="34.70" y2="198.50" stroke="#999" stroke-width="0.6"/>
<line x1="33.50" y1="201.50" x2="34.70" y2="201.50" stroke="#999" stroke-width="0.6"/>
<line x1="38.50" y1="207.90" x2="38.50" y2="208.90" stroke="#aaa" stroke-width="0.6"/>
<line x1="41.50" y1="207.90" x2="41.50" y2="208.90" stroke="#aaa" stroke-width="0.6"/>
<line x1="44.50" y1="207.90" x2="44.50" y2="208.90" stroke="#aaa" stroke-width="0.6"/>
<line x1="47.50" y1="207.90" x2="47.50" y2="208.90" stroke="#aaa" stroke-width="0.6"/>
<line x1="53.50" y1="207.90" x2="53.50" y2="208.90" stroke="#aaa" stroke-width="0.6"/>
<line x1="56.50" y1="207.90" x2="56.50" y2="208.90" stroke="#aaa" stroke-width="0.6"/>
<line x1="59.50" y1="207.90" x2="59.50" y2="208.90" stroke="#aaa" stroke-width="0.6"/>
<line x1="64.50" y1="207.90" x2="64.50" y2="208.90" stroke="#aaa" stroke-width="0.6"/>
<line x1="68.50" y1="207.90" x2="68.50" y2="208.90" stroke="#aaa" stroke-width="0.6"/>
<line x1="71.50" y1="207.90" x2="71.50" y2="208.90" stroke="#aaa" stroke-width="0.6"/>
<line x1="73.50" y1="207.90" x2="73.50" y2="208.90" stroke="#aaa" stroke-width="0.6"/>
<text transform="translate(32.50,168.76)" font-size="4.6" text-anchor="end" fill="#666">10<tspan font-size="3.2" dy="-1.8">5</tspan></text>
<text transform="translate(32.50,178.48)" font-size="4.6" text-anchor="end" fill="#666">10<tspan font-size="3.2" dy="-1.8">4</tspan></text>
<text transform="translate(32.50,188.66)" font-size="4.6" text-anchor="end" fill="#666">10<tspan font-size="3.2" dy="-1.8">3</tspan></text>
<text transform="translate(32.50,199.78)" font-size="4.6" text-anchor="end" fill="#666">10<tspan font-size="3.2" dy="-1.8">2</tspan></text>
<text transform="translate(32.10,203.02)" font-size="4.6" text-anchor="end" fill="#666">0</text>
<text transform="translate(39.00,215.30)" font-size="4.6" text-anchor="middle" fill="#666">0</text>
<text transform="translate(45.22,215.30)" font-size="4.6" text-anchor="middle" fill="#666">10<tspan font-size="3.2" dy="-1.8">2</tspan></text>
<text transform="translate(56.21,215.30)" font-size="4.6" text-anchor="middle" fill="#666">10<tspan font-size="3.2" dy="-1.8">3</tspan></text>
<text transform="translate(66.25,215.30)" font-size="4.6" text-anchor="middle" fill="#666">10<tspan font-size="3.2" dy="-1.8">4</tspan></text>
<text transform="translate(76.76,215.30)" font-size="4.6" text-anchor="middle" fill="#666">10<tspan font-size="3.2" dy="-1.8">5</tspan></text>
<clipPath id="c1"><rect x="34.7" y="161.6" width="47.8" height="46.30000000000001"/></clipPath><g clip-path="url(#c1)">
<path d="M35,208 L35,186 C36.5,181 41,180 45,180.8 C50,181.5 56,184 59.5,189 C61.8,194 61.5,201 59,208 Z" fill="#e0e0e0" stroke="#666" stroke-width="0.5"/>
<path d="M35.5,208 C35.5,196 38,186.5 44,185.5 C50,184.8 56,189 57.5,195 C58.5,200 57.5,205 55.5,208 Z" fill="#c6c6c6" stroke="#666" stroke-width="0.5"/>
<path d="M37,208 C37,199 39.5,190 45,189.5 C50,189.3 54,193 55,198 C55.5,202 54.5,205.5 53,208 Z" fill="#b0b0b0" stroke="#555" stroke-width="0.5"/>
<ellipse cx="46.50" cy="197.50" rx="4.50" ry="5.00" transform="rotate(0 46.50 197.50)" fill="#9a9a9a" stroke="#444" stroke-width="0.5" fill-opacity="1.0"/>
<ellipse cx="47.50" cy="197.00" rx="2.20" ry="2.50" transform="rotate(0 47.50 197.00)" fill="#b4b4b4" stroke="#555" stroke-width="0.4" fill-opacity="1.0"/>
<path d="M40.5,189 C38,193 37.8,199 39.5,204" fill="none" stroke="#333" stroke-width="1.6"/>
<path d="M35.6,207.2 L52,207.2" fill="none" stroke="#777" stroke-width="0.9"/>
</g>
<ellipse cx="48.60" cy="179.20" rx="2.60" ry="1.80" transform="rotate(0 48.60 179.20)" fill="none" stroke="#888" stroke-width="0.5" fill-opacity="1.0"/>
<ellipse cx="56.30" cy="177.30" rx="7.20" ry="2.90" transform="rotate(0 56.30 177.30)" fill="#dcdcdc" stroke="#555" stroke-width="0.5" fill-opacity="1.0"/>
<ellipse cx="56.80" cy="176.90" rx="4.80" ry="1.70" transform="rotate(0 56.80 176.90)" fill="#a8a8a8" stroke="#555" stroke-width="0.4" fill-opacity="1.0"/>
<rect x="46.70" y="173.40" width="30.00" height="10.70" fill="none" stroke="#444" stroke-width="0.85"/>
<text transform="translate(63.70,168.90)" font-size="6.1" text-anchor="middle" font-weight="bold" fill="#222">6.3</text>
<rect x="34.70" y="221.40" width="47.80" height="46.80" fill="#fff" stroke="#c0c0c0" stroke-width="0.8"/>
<line x1="33.50" y1="227.50" x2="34.70" y2="227.50" stroke="#999" stroke-width="0.6"/>
<line x1="33.50" y1="236.50" x2="34.70" y2="236.50" stroke="#999" stroke-width="0.6"/>
<line x1="33.50" y1="247.50" x2="34.70" y2="247.50" stroke="#999" stroke-width="0.6"/>
<line x1="33.50" y1="258.50" x2="34.70" y2="258.50" stroke="#999" stroke-width="0.6"/>
<line x1="33.50" y1="261.50" x2="34.70" y2="261.50" stroke="#999" stroke-width="0.6"/>
<line x1="38.50" y1="268.20" x2="38.50" y2="269.20" stroke="#aaa" stroke-width="0.6"/>
<line x1="41.50" y1="268.20" x2="41.50" y2="269.20" stroke="#aaa" stroke-width="0.6"/>
<line x1="44.50" y1="268.20" x2="44.50" y2="269.20" stroke="#aaa" stroke-width="0.6"/>
<line x1="47.50" y1="268.20" x2="47.50" y2="269.20" stroke="#aaa" stroke-width="0.6"/>
<line x1="53.50" y1="268.20" x2="53.50" y2="269.20" stroke="#aaa" stroke-width="0.6"/>
<line x1="56.50" y1="268.20" x2="56.50" y2="269.20" stroke="#aaa" stroke-width="0.6"/>
<line x1="59.50" y1="268.20" x2="59.50" y2="269.20" stroke="#aaa" stroke-width="0.6"/>
<line x1="64.50" y1="268.20" x2="64.50" y2="269.20" stroke="#aaa" stroke-width="0.6"/>
<line x1="68.50" y1="268.20" x2="68.50" y2="269.20" stroke="#aaa" stroke-width="0.6"/>
<line x1="71.50" y1="268.20" x2="71.50" y2="269.20" stroke="#aaa" stroke-width="0.6"/>
<line x1="73.50" y1="268.20" x2="73.50" y2="269.20" stroke="#aaa" stroke-width="0.6"/>
<text transform="translate(32.50,228.62)" font-size="4.6" text-anchor="end" fill="#666">10<tspan font-size="3.2" dy="-1.8">5</tspan></text>
<text transform="translate(32.50,238.44)" font-size="4.6" text-anchor="end" fill="#666">10<tspan font-size="3.2" dy="-1.8">4</tspan></text>
<text transform="translate(32.50,248.74)" font-size="4.6" text-anchor="end" fill="#666">10<tspan font-size="3.2" dy="-1.8">3</tspan></text>
<text transform="translate(32.50,259.97)" font-size="4.6" text-anchor="end" fill="#666">10<tspan font-size="3.2" dy="-1.8">2</tspan></text>
<text transform="translate(32.10,263.25)" font-size="4.6" text-anchor="end" fill="#666">0</text>
<text transform="translate(39.00,275.60)" font-size="4.6" text-anchor="middle" fill="#666">0</text>
<text transform="translate(45.22,275.60)" font-size="4.6" text-anchor="middle" fill="#666">10<tspan font-size="3.2" dy="-1.8">2</tspan></text>
<text transform="translate(56.21,275.60)" font-size="4.6" text-anchor="middle" fill="#666">10<tspan font-size="3.2" dy="-1.8">3</tspan></text>
<text transform="translate(66.25,275.60)" font-size="4.6" text-anchor="middle" fill="#666">10<tspan font-size="3.2" dy="-1.8">4</tspan></text>
<text transform="translate(76.76,275.60)" font-size="4.6" text-anchor="middle" fill="#666">10<tspan font-size="3.2" dy="-1.8">5</tspan></text>
<clipPath id="c2"><rect x="34.7" y="221.4" width="47.8" height="46.79999999999998"/></clipPath><g clip-path="url(#c2)">
<path d="M36.5,268.5 C36,256 39,246 45,242.5 C47,241.5 48,240 50,240 C53,240 54.5,242 56,244.5 C59,248.5 62,253 62,256 C60.5,261 58.5,265 57.5,268.5 Z" fill="#e0e0e0" stroke="#777" stroke-width="0.5"/>
<path d="M38,268.5 C38,257 41,248 47,246 C52,245 56,250 58.3,255.5 C57.5,261 55.5,265 54.5,268.5 Z" fill="#bcbcbc" stroke="#555" stroke-width="0.5"/>
<ellipse cx="46.80" cy="255.50" rx="6.30" ry="7.50" transform="rotate(0 46.80 255.50)" fill="#a5a5a5" stroke="#444" stroke-width="0.5" fill-opacity="1.0"/>
<ellipse cx="45.80" cy="253.50" rx="3.80" ry="4.60" transform="rotate(0 45.80 253.50)" fill="#6e6e6e" stroke="#333" stroke-width="0.5" fill-opacity="1.0"/>
<ellipse cx="47.50" cy="252.50" rx="1.40" ry="1.80" transform="rotate(0 47.50 252.50)" fill="#aaa" stroke="none" stroke-width="0" fill-opacity="1.0"/>
<path d="M36,267.3 L55,267.3" fill="none" stroke="#444" stroke-width="1.1"/>
</g>
<rect x="46.70" y="233.30" width="30.00" height="10.90" fill="none" stroke="#444" stroke-width="0.85"/>
<text transform="translate(65.30,229.40)" font-size="6.1" text-anchor="middle" font-weight="bold" fill="#222">2</text>
<rect x="112.40" y="161.80" width="47.40" height="46.10" fill="#fff" stroke="#c0c0c0" stroke-width="0.8"/>
<line x1="111.20" y1="167.50" x2="112.40" y2="167.50" stroke="#999" stroke-width="0.6"/>
<line x1="111.20" y1="177.50" x2="112.40" y2="177.50" stroke="#999" stroke-width="0.6"/>
<line x1="111.20" y1="187.50" x2="112.40" y2="187.50" stroke="#999" stroke-width="0.6"/>
<line x1="111.20" y1="198.50" x2="112.40" y2="198.50" stroke="#999" stroke-width="0.6"/>
<line x1="111.20" y1="201.50" x2="112.40" y2="201.50" stroke="#999" stroke-width="0.6"/>
<line x1="116.50" y1="207.90" x2="116.50" y2="208.90" stroke="#aaa" stroke-width="0.6"/>
<line x1="119.50" y1="207.90" x2="119.50" y2="208.90" stroke="#aaa" stroke-width="0.6"/>
<line x1="121.50" y1="207.90" x2="121.50" y2="208.90" stroke="#aaa" stroke-width="0.6"/>
<line x1="124.50" y1="207.90" x2="124.50" y2="208.90" stroke="#aaa" stroke-width="0.6"/>
<line x1="131.50" y1="207.90" x2="131.50" y2="208.90" stroke="#aaa" stroke-width="0.6"/>
<line x1="134.50" y1="207.90" x2="134.50" y2="208.90" stroke="#aaa" stroke-width="0.6"/>
<line x1="137.50" y1="207.90" x2="137.50" y2="208.90" stroke="#aaa" stroke-width="0.6"/>
<line x1="141.50" y1="207.90" x2="141.50" y2="208.90" stroke="#aaa" stroke-width="0.6"/>
<line x1="145.50" y1="207.90" x2="145.50" y2="208.90" stroke="#aaa" stroke-width="0.6"/>
<line x1="148.50" y1="207.90" x2="148.50" y2="208.90" stroke="#aaa" stroke-width="0.6"/>
<line x1="151.50" y1="207.90" x2="151.50" y2="208.90" stroke="#aaa" stroke-width="0.6"/>
<text transform="translate(110.20,168.93)" font-size="4.6" text-anchor="end" fill="#666">10<tspan font-size="3.2" dy="-1.8">5</tspan></text>
<text transform="translate(110.20,178.61)" font-size="4.6" text-anchor="end" fill="#666">10<tspan font-size="3.2" dy="-1.8">4</tspan></text>
<text transform="translate(110.20,188.75)" font-size="4.6" text-anchor="end" fill="#666">10<tspan font-size="3.2" dy="-1.8">3</tspan></text>
<text transform="translate(110.20,199.82)" font-size="4.6" text-anchor="end" fill="#666">10<tspan font-size="3.2" dy="-1.8">2</tspan></text>
<text transform="translate(109.80,203.05)" font-size="4.6" text-anchor="end" fill="#666">0</text>
<text transform="translate(116.67,215.30)" font-size="4.6" text-anchor="middle" fill="#666">0</text>
<text transform="translate(122.83,215.30)" font-size="4.6" text-anchor="middle" fill="#666">10<tspan font-size="3.2" dy="-1.8">2</tspan></text>
<text transform="translate(133.73,215.30)" font-size="4.6" text-anchor="middle" fill="#666">10<tspan font-size="3.2" dy="-1.8">3</tspan></text>
<text transform="translate(143.68,215.30)" font-size="4.6" text-anchor="middle" fill="#666">10<tspan font-size="3.2" dy="-1.8">4</tspan></text>
<text transform="translate(154.11,215.30)" font-size="4.6" text-anchor="middle" fill="#666">10<tspan font-size="3.2" dy="-1.8">5</tspan></text>
<line x1="131.50" y1="161.80" x2="131.50" y2="207.90" stroke="#909090" stroke-width="1.2"/>
<line x1="112.40" y1="191.50" x2="159.80" y2="191.50" stroke="#909090" stroke-width="1.2"/>
<clipPath id="c3"><rect x="112.4" y="161.8" width="47.400000000000006" height="46.099999999999994"/></clipPath><g clip-path="url(#c3)">
<path d="M137.0,208 C136.6,192 136.8,178 139.5,171 C141,167.5 142.2,166.6 143.2,166.6 C144.4,166.6 145.8,167.8 147.2,171.5 C149.6,178 149.6,192 149.3,208 Z" fill="#efefef" stroke="#666" stroke-width="0.5"/>
<path d="M138.0,208 C137.8,194 138,181 140.2,175 C141.4,171.5 142.5,170.5 143.2,170.5 C144.2,170.5 145.4,172 146.4,175 C148.3,181 148.5,194 148.3,208 Z" fill="#d0d0d0" stroke="#555" stroke-width="0.5"/>
<path d="M138.8,192 C138.6,186 139,180 140.4,177.5 C141.6,179 142.2,184 142.0,192 Z" fill="#2a2a2a"/>
<path d="M144.6,192 C144.4,184 145,179 146.2,177.5 C147.4,180 147.8,186 147.6,192 Z" fill="#2a2a2a"/>
<path d="M139.0,208 C138.8,203 139.2,198.5 140.6,196.5 C141.8,198.5 142.2,203 142.0,208 Z" fill="#1e1e1e"/>
<path d="M144.2,208 C144.0,203 144.6,198.5 145.8,196.5 C147.0,198.5 147.4,203 147.2,208 Z" fill="#1e1e1e"/>
<ellipse cx="143.20" cy="175.50" rx="2.60" ry="3.60" transform="rotate(0 143.20 175.50)" fill="#b8b8b8" stroke="#666" stroke-width="0.4" fill-opacity="0.8"/>
<ellipse cx="143.20" cy="187.00" rx="0.90" ry="3.80" transform="rotate(0 143.20 187.00)" fill="#f4f4f4" stroke="none" stroke-width="0" fill-opacity="0.9"/>
<path d="M140.5,194 C141.5,193 145.5,193 146.5,194" fill="none" stroke="#555" stroke-width="0.6"/>
</g>
<text transform="translate(113.50,168.50)" font-size="6.1" font-weight="bold" fill="#222">0</text>
<text transform="translate(158.20,168.50)" font-size="6.1" text-anchor="end" font-weight="bold" fill="#222">58</text>
<text transform="translate(113.50,207.00)" font-size="6.1" font-weight="bold" fill="#222">0</text>
<text transform="translate(158.20,207.00)" font-size="6.1" text-anchor="end" font-weight="bold" fill="#222">42</text>
<rect x="112.40" y="221.70" width="47.40" height="46.70" fill="#fff" stroke="#c0c0c0" stroke-width="0.8"/>
<line x1="111.20" y1="227.50" x2="112.40" y2="227.50" stroke="#999" stroke-width="0.6"/>
<line x1="111.20" y1="237.50" x2="112.40" y2="237.50" stroke="#999" stroke-width="0.6"/>
<line x1="111.20" y1="247.50" x2="112.40" y2="247.50" stroke="#999" stroke-width="0.6"/>
<line x1="111.20" y1="258.50" x2="112.40" y2="258.50" stroke="#999" stroke-width="0.6"/>
<line x1="111.20" y1="261.50" x2="112.40" y2="261.50" stroke="#999" stroke-width="0.6"/>
<line x1="116.50" y1="268.40" x2="116.50" y2="269.40" stroke="#aaa" stroke-width="0.6"/>
<line x1="119.50" y1="268.40" x2="119.50" y2="269.40" stroke="#aaa" stroke-width="0.6"/>
<line x1="121.50" y1="268.40" x2="121.50" y2="269.40" stroke="#aaa" stroke-width="0.6"/>
<line x1="124.50" y1="268.40" x2="124.50" y2="269.40" stroke="#aaa" stroke-width="0.6"/>
<line x1="131.50" y1="268.40" x2="131.50" y2="269.40" stroke="#aaa" stroke-width="0.6"/>
<line x1="134.50" y1="268.40" x2="134.50" y2="269.40" stroke="#aaa" stroke-width="0.6"/>
<line x1="137.50" y1="268.40" x2="137.50" y2="269.40" stroke="#aaa" stroke-width="0.6"/>
<line x1="141.50" y1="268.40" x2="141.50" y2="269.40" stroke="#aaa" stroke-width="0.6"/>
<line x1="145.50" y1="268.40" x2="145.50" y2="269.40" stroke="#aaa" stroke-width="0.6"/>
<line x1="148.50" y1="268.40" x2="148.50" y2="269.40" stroke="#aaa" stroke-width="0.6"/>
<line x1="151.50" y1="268.40" x2="151.50" y2="269.40" stroke="#aaa" stroke-width="0.6"/>
<text transform="translate(110.20,228.90)" font-size="4.6" text-anchor="end" fill="#666">10<tspan font-size="3.2" dy="-1.8">5</tspan></text>
<text transform="translate(110.20,238.71)" font-size="4.6" text-anchor="end" fill="#666">10<tspan font-size="3.2" dy="-1.8">4</tspan></text>
<text transform="translate(110.20,248.98)" font-size="4.6" text-anchor="end" fill="#666">10<tspan font-size="3.2" dy="-1.8">3</tspan></text>
<text transform="translate(110.20,260.19)" font-size="4.6" text-anchor="end" fill="#666">10<tspan font-size="3.2" dy="-1.8">2</tspan></text>
<text transform="translate(109.80,263.46)" font-size="4.6" text-anchor="end" fill="#666">0</text>
<text transform="translate(116.67,275.80)" font-size="4.6" text-anchor="middle" fill="#666">0</text>
<text transform="translate(122.83,275.80)" font-size="4.6" text-anchor="middle" fill="#666">10<tspan font-size="3.2" dy="-1.8">2</tspan></text>
<text transform="translate(133.73,275.80)" font-size="4.6" text-anchor="middle" fill="#666">10<tspan font-size="3.2" dy="-1.8">3</tspan></text>
<text transform="translate(143.68,275.80)" font-size="4.6" text-anchor="middle" fill="#666">10<tspan font-size="3.2" dy="-1.8">4</tspan></text>
<text transform="translate(154.11,275.80)" font-size="4.6" text-anchor="middle" fill="#666">10<tspan font-size="3.2" dy="-1.8">5</tspan></text>
<line x1="132.50" y1="221.70" x2="132.50" y2="268.40" stroke="#909090" stroke-width="1.2"/>
<line x1="112.40" y1="251.50" x2="159.80" y2="251.50" stroke="#909090" stroke-width="1.2"/>
<clipPath id="c4"><rect x="112.4" y="221.7" width="47.400000000000006" height="46.69999999999999"/></clipPath><g clip-path="url(#c4)">
<path d="M138.2,268.5 C137.8,252 137.6,240 139.2,233 C140.3,229.8 141.6,229 142.6,229 C144,229 145.6,230.5 146.8,234 C148.2,240 147.6,250 145.8,256 C145,260 145,265 145.3,268.5 Z" fill="#ececec" stroke="#666" stroke-width="0.5"/>
<path d="M139,268.5 C138.8,255 138.8,243 140,237 C140.8,233.5 142,232.5 142.8,232.5 C144,232.5 145.3,234 146,237.5 C146.8,243 146.2,251 144.5,256 C143.8,260 143.8,265 144,268.5 Z" fill="#c4c4c4" stroke="#555" stroke-width="0.5"/>
<path d="M139.6,250 C139.3,244 139.6,238 141,235 C142,233.8 143.5,234 144.4,236 C145.5,239 145.5,245 144.6,250.5 Z" fill="#2b2b2b"/>
<path d="M140.2,251 C140,246 140.5,240 141.4,238 C141.8,242 141.8,247 141.4,251 Z" fill="#0e0e0e"/>
<ellipse cx="142.30" cy="243.50" rx="0.70" ry="2.50" transform="rotate(0 142.30 243.50)" fill="#999" stroke="none" stroke-width="0" fill-opacity="0.9"/>
<ellipse cx="141.80" cy="262.00" rx="1.20" ry="1.50" transform="rotate(0 141.80 262.00)" fill="#f6f6f6" stroke="none" stroke-width="0" fill-opacity="0.9"/>
</g>
<text transform="translate(113.50,228.60)" font-size="6.1" font-weight="bold" fill="#222">0</text>
<text transform="translate(158.20,228.60)" font-size="6.1" text-anchor="end" font-weight="bold" fill="#222">85</text>
<text transform="translate(113.50,266.70)" font-size="6.1" font-weight="bold" fill="#222">0</text>
<text transform="translate(158.20,266.70)" font-size="6.1" text-anchor="end" font-weight="bold" fill="#222">15</text>
<text transform="translate(8.00,315.40)" font-size="11" font-weight="bold" fill="#111" stroke="#111" stroke-width="0.45">H</text>
<line x1="21.50" y1="439.60" x2="21.50" y2="324.80" stroke="#111" stroke-width="1.3"/>
<polygon points="21.9,320.8 19.299999999999997,326.8 24.5,326.8" fill="#111"/>
<line x1="99.50" y1="439.60" x2="99.50" y2="324.80" stroke="#111" stroke-width="1.3"/>
<polygon points="99.2,320.8 96.60000000000001,326.8 101.8,326.8" fill="#111"/>
<line x1="21.25" y1="438.50" x2="99.20" y2="438.50" stroke="#111" stroke-width="1.4"/>
<line x1="99.20" y1="438.50" x2="153.80" y2="438.50" stroke="#111" stroke-width="1.3"/>
<polygon points="157.8,438.9 151.8,436.29999999999995 151.8,441.5" fill="#111"/>
<text transform="translate(15.00,381.40) rotate(-90)" font-size="7.3" text-anchor="middle" fill="#222" stroke="#222" stroke-width="0.1" textLength="24" lengthAdjust="spacingAndGlyphs">IL-12p35</text>
<text transform="translate(94.40,382.30) rotate(-90)" font-size="7.3" text-anchor="middle" fill="#222" stroke="#222" stroke-width="0.2" textLength="11.5" lengthAdjust="spacingAndGlyphs">IFNγ</text>
<text transform="translate(57.90,447.80)" font-size="7.5" text-anchor="middle" fill="#333" stroke="#333" stroke-width="0.15" textLength="12" lengthAdjust="spacingAndGlyphs">B220</text>
<text transform="translate(135.90,447.80)" font-size="7.5" text-anchor="middle" fill="#333" stroke="#333" stroke-width="0.15" textLength="12" lengthAdjust="spacingAndGlyphs">B220</text>
<text transform="translate(163.20,342.20) rotate(90)" font-size="6.8" text-anchor="middle" fill="#222" textLength="11.3" lengthAdjust="spacingAndGlyphs">WT</text>
<text transform="translate(163.20,402.00) rotate(90)" font-size="6.8" text-anchor="middle" fill="#222" textLength="9.4" lengthAdjust="spacingAndGlyphs">KO</text>
<rect x="34.70" y="319.60" width="47.80" height="46.20" fill="#fff" stroke="#c0c0c0" stroke-width="0.8"/>
<line x1="33.50" y1="325.50" x2="34.70" y2="325.50" stroke="#999" stroke-width="0.6"/>
<line x1="33.50" y1="334.50" x2="34.70" y2="334.50" stroke="#999" stroke-width="0.6"/>
<line x1="33.50" y1="345.50" x2="34.70" y2="345.50" stroke="#999" stroke-width="0.6"/>
<line x1="33.50" y1="356.50" x2="34.70" y2="356.50" stroke="#999" stroke-width="0.6"/>
<line x1="33.50" y1="359.50" x2="34.70" y2="359.50" stroke="#999" stroke-width="0.6"/>
<line x1="38.50" y1="365.80" x2="38.50" y2="366.80" stroke="#aaa" stroke-width="0.6"/>
<line x1="41.50" y1="365.80" x2="41.50" y2="366.80" stroke="#aaa" stroke-width="0.6"/>
<line x1="44.50" y1="365.80" x2="44.50" y2="366.80" stroke="#aaa" stroke-width="0.6"/>
<line x1="47.50" y1="365.80" x2="47.50" y2="366.80" stroke="#aaa" stroke-width="0.6"/>
<line x1="53.50" y1="365.80" x2="53.50" y2="366.80" stroke="#aaa" stroke-width="0.6"/>
<line x1="56.50" y1="365.80" x2="56.50" y2="366.80" stroke="#aaa" stroke-width="0.6"/>
<line x1="59.50" y1="365.80" x2="59.50" y2="366.80" stroke="#aaa" stroke-width="0.6"/>
<line x1="64.50" y1="365.80" x2="64.50" y2="366.80" stroke="#aaa" stroke-width="0.6"/>
<line x1="68.50" y1="365.80" x2="68.50" y2="366.80" stroke="#aaa" stroke-width="0.6"/>
<line x1="71.50" y1="365.80" x2="71.50" y2="366.80" stroke="#aaa" stroke-width="0.6"/>
<line x1="73.50" y1="365.80" x2="73.50" y2="366.80" stroke="#aaa" stroke-width="0.6"/>
<text transform="translate(32.50,326.74)" font-size="4.6" text-anchor="end" fill="#666">10<tspan font-size="3.2" dy="-1.8">5</tspan></text>
<text transform="translate(32.50,336.45)" font-size="4.6" text-anchor="end" fill="#666">10<tspan font-size="3.2" dy="-1.8">4</tspan></text>
<text transform="translate(32.50,346.61)" font-size="4.6" text-anchor="end" fill="#666">10<tspan font-size="3.2" dy="-1.8">3</tspan></text>
<text transform="translate(32.50,357.70)" font-size="4.6" text-anchor="end" fill="#666">10<tspan font-size="3.2" dy="-1.8">2</tspan></text>
<text transform="translate(32.10,360.93)" font-size="4.6" text-anchor="end" fill="#666">0</text>
<text transform="translate(39.00,373.20)" font-size="4.6" text-anchor="middle" fill="#666">0</text>
<text transform="translate(45.22,373.20)" font-size="4.6" text-anchor="middle" fill="#666">10<tspan font-size="3.2" dy="-1.8">2</tspan></text>
<text transform="translate(56.21,373.20)" font-size="4.6" text-anchor="middle" fill="#666">10<tspan font-size="3.2" dy="-1.8">3</tspan></text>
<text transform="translate(66.25,373.20)" font-size="4.6" text-anchor="middle" fill="#666">10<tspan font-size="3.2" dy="-1.8">4</tspan></text>
<text transform="translate(76.76,373.20)" font-size="4.6" text-anchor="middle" fill="#666">10<tspan font-size="3.2" dy="-1.8">5</tspan></text>
<line x1="55.50" y1="319.60" x2="55.50" y2="365.80" stroke="#909090" stroke-width="1.2"/>
<line x1="34.70" y1="343.50" x2="82.50" y2="343.50" stroke="#909090" stroke-width="1.2"/>
<clipPath id="c5"><rect x="34.7" y="319.6" width="47.8" height="46.19999999999999"/></clipPath><g clip-path="url(#c5)">
<path d="M56,366 L56,336 C57,329 59.5,327 62.5,327.2 C66,327.5 68,331 68.3,338 C68.5,348 69.5,360 70.5,366 Z" fill="#e6e6e6" stroke="#888" stroke-width="0.5"/>
<path d="M56,366 L56,340 C57,334 59,332 61.5,332.5 C64.5,333 66,337 66,344 C66,352 67.5,360 68.5,366 Z" fill="#bdbdbd" stroke="#666" stroke-width="0.5"/>
<path d="M56,366 L56,344 C57,341.5 59,341 60.5,342 C62,343.5 62.5,348 62.5,352 C63.5,356 66,361 67.5,366 Z" fill="#4a4a4a" stroke="#333" stroke-width="0.5"/>
<path d="M56.2,366 L56.2,345 C57,343.5 58.5,343.5 59.2,345 C59.8,350 59.6,358 59.8,366 Z" fill="#0c0c0c"/>
<path d="M61,366 C61,360 61.3,354 62,350 C63,354 64.5,360 66,366 Z" fill="#111"/>
<ellipse cx="61.20" cy="334.50" rx="1.80" ry="2.20" transform="rotate(0 61.20 334.50)" fill="#fafafa" stroke="#888" stroke-width="0.4" fill-opacity="0.9"/>
<ellipse cx="64.20" cy="346.00" rx="1.00" ry="2.60" transform="rotate(0 64.20 346.00)" fill="#777" stroke="none" stroke-width="0" fill-opacity="0.8"/>
</g>
<text transform="translate(35.90,325.00)" font-size="6.1" font-weight="bold" fill="#222">0</text>
<text transform="translate(80.60,325.00)" font-size="6.1" text-anchor="end" font-weight="bold" fill="#222">12</text>
<text transform="translate(35.90,364.50)" font-size="6.1" font-weight="bold" fill="#222">0</text>
<text transform="translate(80.60,364.50)" font-size="6.1" text-anchor="end" font-weight="bold" fill="#222">88</text>
<rect x="34.70" y="378.40" width="47.80" height="46.90" fill="#fff" stroke="#c0c0c0" stroke-width="0.8"/>
<line x1="33.50" y1="384.50" x2="34.70" y2="384.50" stroke="#999" stroke-width="0.6"/>
<line x1="33.50" y1="393.50" x2="34.70" y2="393.50" stroke="#999" stroke-width="0.6"/>
<line x1="33.50" y1="404.50" x2="34.70" y2="404.50" stroke="#999" stroke-width="0.6"/>
<line x1="33.50" y1="415.50" x2="34.70" y2="415.50" stroke="#999" stroke-width="0.6"/>
<line x1="33.50" y1="418.50" x2="34.70" y2="418.50" stroke="#999" stroke-width="0.6"/>
<line x1="38.50" y1="425.30" x2="38.50" y2="426.30" stroke="#aaa" stroke-width="0.6"/>
<line x1="41.50" y1="425.30" x2="41.50" y2="426.30" stroke="#aaa" stroke-width="0.6"/>
<line x1="44.50" y1="425.30" x2="44.50" y2="426.30" stroke="#aaa" stroke-width="0.6"/>
<line x1="47.50" y1="425.30" x2="47.50" y2="426.30" stroke="#aaa" stroke-width="0.6"/>
<line x1="53.50" y1="425.30" x2="53.50" y2="426.30" stroke="#aaa" stroke-width="0.6"/>
<line x1="56.50" y1="425.30" x2="56.50" y2="426.30" stroke="#aaa" stroke-width="0.6"/>
<line x1="59.50" y1="425.30" x2="59.50" y2="426.30" stroke="#aaa" stroke-width="0.6"/>
<line x1="64.50" y1="425.30" x2="64.50" y2="426.30" stroke="#aaa" stroke-width="0.6"/>
<line x1="68.50" y1="425.30" x2="68.50" y2="426.30" stroke="#aaa" stroke-width="0.6"/>
<line x1="71.50" y1="425.30" x2="71.50" y2="426.30" stroke="#aaa" stroke-width="0.6"/>
<line x1="73.50" y1="425.30" x2="73.50" y2="426.30" stroke="#aaa" stroke-width="0.6"/>
<text transform="translate(32.50,385.63)" font-size="4.6" text-anchor="end" fill="#666">10<tspan font-size="3.2" dy="-1.8">5</tspan></text>
<text transform="translate(32.50,395.48)" font-size="4.6" text-anchor="end" fill="#666">10<tspan font-size="3.2" dy="-1.8">4</tspan></text>
<text transform="translate(32.50,405.80)" font-size="4.6" text-anchor="end" fill="#666">10<tspan font-size="3.2" dy="-1.8">3</tspan></text>
<text transform="translate(32.50,417.05)" font-size="4.6" text-anchor="end" fill="#666">10<tspan font-size="3.2" dy="-1.8">2</tspan></text>
<text transform="translate(32.10,420.33)" font-size="4.6" text-anchor="end" fill="#666">0</text>
<text transform="translate(39.00,432.70)" font-size="4.6" text-anchor="middle" fill="#666">0</text>
<text transform="translate(45.22,432.70)" font-size="4.6" text-anchor="middle" fill="#666">10<tspan font-size="3.2" dy="-1.8">2</tspan></text>
<text transform="translate(56.21,432.70)" font-size="4.6" text-anchor="middle" fill="#666">10<tspan font-size="3.2" dy="-1.8">3</tspan></text>
<text transform="translate(66.25,432.70)" font-size="4.6" text-anchor="middle" fill="#666">10<tspan font-size="3.2" dy="-1.8">4</tspan></text>
<text transform="translate(76.76,432.70)" font-size="4.6" text-anchor="middle" fill="#666">10<tspan font-size="3.2" dy="-1.8">5</tspan></text>
<line x1="55.50" y1="378.40" x2="55.50" y2="425.30" stroke="#909090" stroke-width="1.2"/>
<line x1="34.70" y1="403.50" x2="82.50" y2="403.50" stroke="#909090" stroke-width="1.2"/>
<clipPath id="c6"><rect x="34.7" y="378.4" width="47.8" height="46.900000000000034"/></clipPath><g clip-path="url(#c6)">
<path d="M56.5,426 L56.5,399 C57,393 59.5,391.2 63,391.2 C67,391.3 68.5,393.5 68.8,398 C69,406 70.5,418 73,426 Z" fill="#f2f2f2" stroke="#666" stroke-width="0.5"/>
<path d="M57,426 L57,401 C58,396 60,394.5 62.5,394.8 C65.5,395 66.5,398 66.5,404 C66.8,413 68,420 69.5,426 Z" fill="#dedede" stroke="#777" stroke-width="0.5"/>
<path d="M56,426 L56,403.5 C57.5,401.5 60,401 62.5,401.5 C64.5,402 65.5,406 65.5,412 C65.8,418 66.5,422 67,426 Z" fill="#8a8a8a" stroke="#555" stroke-width="0.5"/>
<path d="M56.3,426 L56.3,409 C57.5,407.5 59.5,407.5 61,408.5 C62.5,410 63.5,416 64.5,426 Z" fill="#3a3a3a"/>
<path d="M57.2,426 C57,420 57.3,413 58.4,410 C59.4,413 59.6,420 59.4,426 Z" fill="#0a0a0a"/>
<path d="M60.6,426 C60.5,421 60.8,415 61.8,412.5 C62.8,416 63.2,421 63.2,426 Z" fill="#111"/>
<ellipse cx="61.60" cy="397.50" rx="1.30" ry="1.80" transform="rotate(0 61.60 397.50)" fill="#fafafa" stroke="#999" stroke-width="0.4" fill-opacity="1.0"/>
</g>
<text transform="translate(35.90,384.80)" font-size="6.1" font-weight="bold" fill="#222">0</text>
<text transform="translate(80.60,384.80)" font-size="6.1" text-anchor="end" font-weight="bold" fill="#222">4.6</text>
<text transform="translate(35.90,424.00)" font-size="6.1" font-weight="bold" fill="#222">0</text>
<text transform="translate(80.60,424.00)" font-size="6.1" text-anchor="end" font-weight="bold" fill="#222">95</text>
<rect x="112.20" y="318.90" width="47.40" height="46.90" fill="#fff" stroke="#c0c0c0" stroke-width="0.8"/>
<line x1="111.00" y1="324.50" x2="112.20" y2="324.50" stroke="#999" stroke-width="0.6"/>
<line x1="111.00" y1="334.50" x2="112.20" y2="334.50" stroke="#999" stroke-width="0.6"/>
<line x1="111.00" y1="344.50" x2="112.20" y2="344.50" stroke="#999" stroke-width="0.6"/>
<line x1="111.00" y1="355.50" x2="112.20" y2="355.50" stroke="#999" stroke-width="0.6"/>
<line x1="111.00" y1="359.50" x2="112.20" y2="359.50" stroke="#999" stroke-width="0.6"/>
<line x1="115.50" y1="365.80" x2="115.50" y2="366.80" stroke="#aaa" stroke-width="0.6"/>
<line x1="118.50" y1="365.80" x2="118.50" y2="366.80" stroke="#aaa" stroke-width="0.6"/>
<line x1="121.50" y1="365.80" x2="121.50" y2="366.80" stroke="#aaa" stroke-width="0.6"/>
<line x1="124.50" y1="365.80" x2="124.50" y2="366.80" stroke="#aaa" stroke-width="0.6"/>
<line x1="131.50" y1="365.80" x2="131.50" y2="366.80" stroke="#aaa" stroke-width="0.6"/>
<line x1="134.50" y1="365.80" x2="134.50" y2="366.80" stroke="#aaa" stroke-width="0.6"/>
<line x1="136.50" y1="365.80" x2="136.50" y2="366.80" stroke="#aaa" stroke-width="0.6"/>
<line x1="141.50" y1="365.80" x2="141.50" y2="366.80" stroke="#aaa" stroke-width="0.6"/>
<line x1="145.50" y1="365.80" x2="145.50" y2="366.80" stroke="#aaa" stroke-width="0.6"/>
<line x1="148.50" y1="365.80" x2="148.50" y2="366.80" stroke="#aaa" stroke-width="0.6"/>
<line x1="151.50" y1="365.80" x2="151.50" y2="366.80" stroke="#aaa" stroke-width="0.6"/>
<text transform="translate(110.00,326.13)" font-size="4.6" text-anchor="end" fill="#666">10<tspan font-size="3.2" dy="-1.8">5</tspan></text>
<text transform="translate(110.00,335.98)" font-size="4.6" text-anchor="end" fill="#666">10<tspan font-size="3.2" dy="-1.8">4</tspan></text>
<text transform="translate(110.00,346.30)" font-size="4.6" text-anchor="end" fill="#666">10<tspan font-size="3.2" dy="-1.8">3</tspan></text>
<text transform="translate(110.00,357.55)" font-size="4.6" text-anchor="end" fill="#666">10<tspan font-size="3.2" dy="-1.8">2</tspan></text>
<text transform="translate(109.60,360.83)" font-size="4.6" text-anchor="end" fill="#666">0</text>
<text transform="translate(116.47,373.20)" font-size="4.6" text-anchor="middle" fill="#666">0</text>
<text transform="translate(122.63,373.20)" font-size="4.6" text-anchor="middle" fill="#666">10<tspan font-size="3.2" dy="-1.8">2</tspan></text>
<text transform="translate(133.53,373.20)" font-size="4.6" text-anchor="middle" fill="#666">10<tspan font-size="3.2" dy="-1.8">3</tspan></text>
<text transform="translate(143.48,373.20)" font-size="4.6" text-anchor="middle" fill="#666">10<tspan font-size="3.2" dy="-1.8">4</tspan></text>
<text transform="translate(153.91,373.20)" font-size="4.6" text-anchor="middle" fill="#666">10<tspan font-size="3.2" dy="-1.8">5</tspan></text>
<line x1="133.50" y1="318.90" x2="133.50" y2="365.80" stroke="#909090" stroke-width="1.2"/>
<line x1="112.20" y1="337.50" x2="159.60" y2="337.50" stroke="#909090" stroke-width="1.2"/>
<ellipse cx="140.00" cy="340.60" rx="5.80" ry="10.40" transform="rotate(-8 140.00 340.60)" fill="#f0f0f0" stroke="#888" stroke-width="0.5" fill-opacity="1.0"/>
<ellipse cx="140.00" cy="339.50" rx="4.60" ry="7.60" transform="rotate(-8 140.00 339.50)" fill="#dadada" stroke="#777" stroke-width="0.5" fill-opacity="1.0"/>
<ellipse cx="139.60" cy="342.00" rx="4.40" ry="5.40" transform="rotate(-8 139.60 342.00)" fill="#9a9a9a" stroke="#555" stroke-width="0.5" fill-opacity="1.0"/>
<ellipse cx="139.00" cy="341.80" rx="3.60" ry="3.40" transform="rotate(-8 139.00 341.80)" fill="#3a3a3a" stroke="#222" stroke-width="0.5" fill-opacity="1.0"/>
<ellipse cx="138.60" cy="341.50" rx="1.20" ry="1.00" transform="rotate(0 138.60 341.50)" fill="#bbb" stroke="none" stroke-width="0" fill-opacity="1.0"/>
<ellipse cx="141.40" cy="342.40" rx="0.90" ry="1.00" transform="rotate(0 141.40 342.40)" fill="#bbb" stroke="none" stroke-width="0" fill-opacity="1.0"/>
<text transform="translate(113.40,325.40)" font-size="6.1" font-weight="bold" fill="#222">0</text>
<text transform="translate(157.60,325.40)" font-size="6.1" text-anchor="end" font-weight="bold" fill="#222">23</text>
<text transform="translate(113.40,364.50)" font-size="6.1" font-weight="bold" fill="#222">0</text>
<text transform="translate(157.60,364.50)" font-size="6.1" text-anchor="end" font-weight="bold" fill="#222">77</text>
<rect x="112.20" y="378.40" width="47.40" height="47.40" fill="#fff" stroke="#c0c0c0" stroke-width="0.8"/>
<line x1="111.00" y1="384.50" x2="112.20" y2="384.50" stroke="#999" stroke-width="0.6"/>
<line x1="111.00" y1="394.50" x2="112.20" y2="394.50" stroke="#999" stroke-width="0.6"/>
<line x1="111.00" y1="404.50" x2="112.20" y2="404.50" stroke="#999" stroke-width="0.6"/>
<line x1="111.00" y1="415.50" x2="112.20" y2="415.50" stroke="#999" stroke-width="0.6"/>
<line x1="111.00" y1="419.50" x2="112.20" y2="419.50" stroke="#999" stroke-width="0.6"/>
<line x1="115.50" y1="425.80" x2="115.50" y2="426.80" stroke="#aaa" stroke-width="0.6"/>
<line x1="118.50" y1="425.80" x2="118.50" y2="426.80" stroke="#aaa" stroke-width="0.6"/>
<line x1="121.50" y1="425.80" x2="121.50" y2="426.80" stroke="#aaa" stroke-width="0.6"/>
<line x1="124.50" y1="425.80" x2="124.50" y2="426.80" stroke="#aaa" stroke-width="0.6"/>
<line x1="131.50" y1="425.80" x2="131.50" y2="426.80" stroke="#aaa" stroke-width="0.6"/>
<line x1="134.50" y1="425.80" x2="134.50" y2="426.80" stroke="#aaa" stroke-width="0.6"/>
<line x1="136.50" y1="425.80" x2="136.50" y2="426.80" stroke="#aaa" stroke-width="0.6"/>
<line x1="141.50" y1="425.80" x2="141.50" y2="426.80" stroke="#aaa" stroke-width="0.6"/>
<line x1="145.50" y1="425.80" x2="145.50" y2="426.80" stroke="#aaa" stroke-width="0.6"/>
<line x1="148.50" y1="425.80" x2="148.50" y2="426.80" stroke="#aaa" stroke-width="0.6"/>
<line x1="151.50" y1="425.80" x2="151.50" y2="426.80" stroke="#aaa" stroke-width="0.6"/>
<text transform="translate(110.00,385.69)" font-size="4.6" text-anchor="end" fill="#666">10<tspan font-size="3.2" dy="-1.8">5</tspan></text>
<text transform="translate(110.00,395.64)" font-size="4.6" text-anchor="end" fill="#666">10<tspan font-size="3.2" dy="-1.8">4</tspan></text>
<text transform="translate(110.00,406.07)" font-size="4.6" text-anchor="end" fill="#666">10<tspan font-size="3.2" dy="-1.8">3</tspan></text>
<text transform="translate(110.00,417.45)" font-size="4.6" text-anchor="end" fill="#666">10<tspan font-size="3.2" dy="-1.8">2</tspan></text>
<text transform="translate(109.60,420.76)" font-size="4.6" text-anchor="end" fill="#666">0</text>
<text transform="translate(116.47,433.20)" font-size="4.6" text-anchor="middle" fill="#666">0</text>
<text transform="translate(122.63,433.20)" font-size="4.6" text-anchor="middle" fill="#666">10<tspan font-size="3.2" dy="-1.8">2</tspan></text>
<text transform="translate(133.53,433.20)" font-size="4.6" text-anchor="middle" fill="#666">10<tspan font-size="3.2" dy="-1.8">3</tspan></text>
<text transform="translate(143.48,433.20)" font-size="4.6" text-anchor="middle" fill="#666">10<tspan font-size="3.2" dy="-1.8">4</tspan></text>
<text transform="translate(153.91,433.20)" font-size="4.6" text-anchor="middle" fill="#666">10<tspan font-size="3.2" dy="-1.8">5</tspan></text>
<line x1="133.50" y1="378.40" x2="133.50" y2="425.80" stroke="#909090" stroke-width="1.2"/>
<line x1="112.20" y1="397.50" x2="159.60" y2="397.50" stroke="#909090" stroke-width="1.2"/>
<ellipse cx="139.00" cy="404.20" rx="5.00" ry="5.20" transform="rotate(-10 139.00 404.20)" fill="#f0f0f0" stroke="#aaa" stroke-width="0.5" fill-opacity="1.0"/>
<ellipse cx="139.20" cy="403.20" rx="4.60" ry="3.60" transform="rotate(-20 139.20 403.20)" fill="#d8d8d8" stroke="#888" stroke-width="0.5" fill-opacity="1.0"/>
<ellipse cx="139.60" cy="401.80" rx="4.10" ry="2.10" transform="rotate(-24 139.60 401.80)" fill="#e8e8e8" stroke="#111" stroke-width="1.3" fill-opacity="1.0"/>
<ellipse cx="139.80" cy="401.60" rx="2.00" ry="0.70" transform="rotate(-24 139.80 401.60)" fill="#fafafa" stroke="none" stroke-width="0" fill-opacity="1.0"/>
<text transform="translate(113.40,384.80)" font-size="6.1" font-weight="bold" fill="#222">0</text>
<text transform="translate(157.60,384.80)" font-size="6.1" text-anchor="end" font-weight="bold" fill="#222">1.1</text>
<text transform="translate(113.40,424.00)" font-size="6.1" font-weight="bold" fill="#222">0</text>
<text transform="translate(157.60,424.00)" font-size="6.1" text-anchor="end" font-weight="bold" fill="#222">99</text>
<rect x="0.5" y="0.5" width="518" height="454" fill="none" stroke="#000" stroke-width="1"/>
<rect x="518" y="0" width="2" height="456" fill="#000"/>
<rect x="0" y="454" width="520" height="2" fill="#000"/>
<rect x="0" y="0" width="520" height="1" fill="#000"/>
<rect x="0" y="0" width="1" height="456" fill="#000"/>
</svg>
</body></html>
